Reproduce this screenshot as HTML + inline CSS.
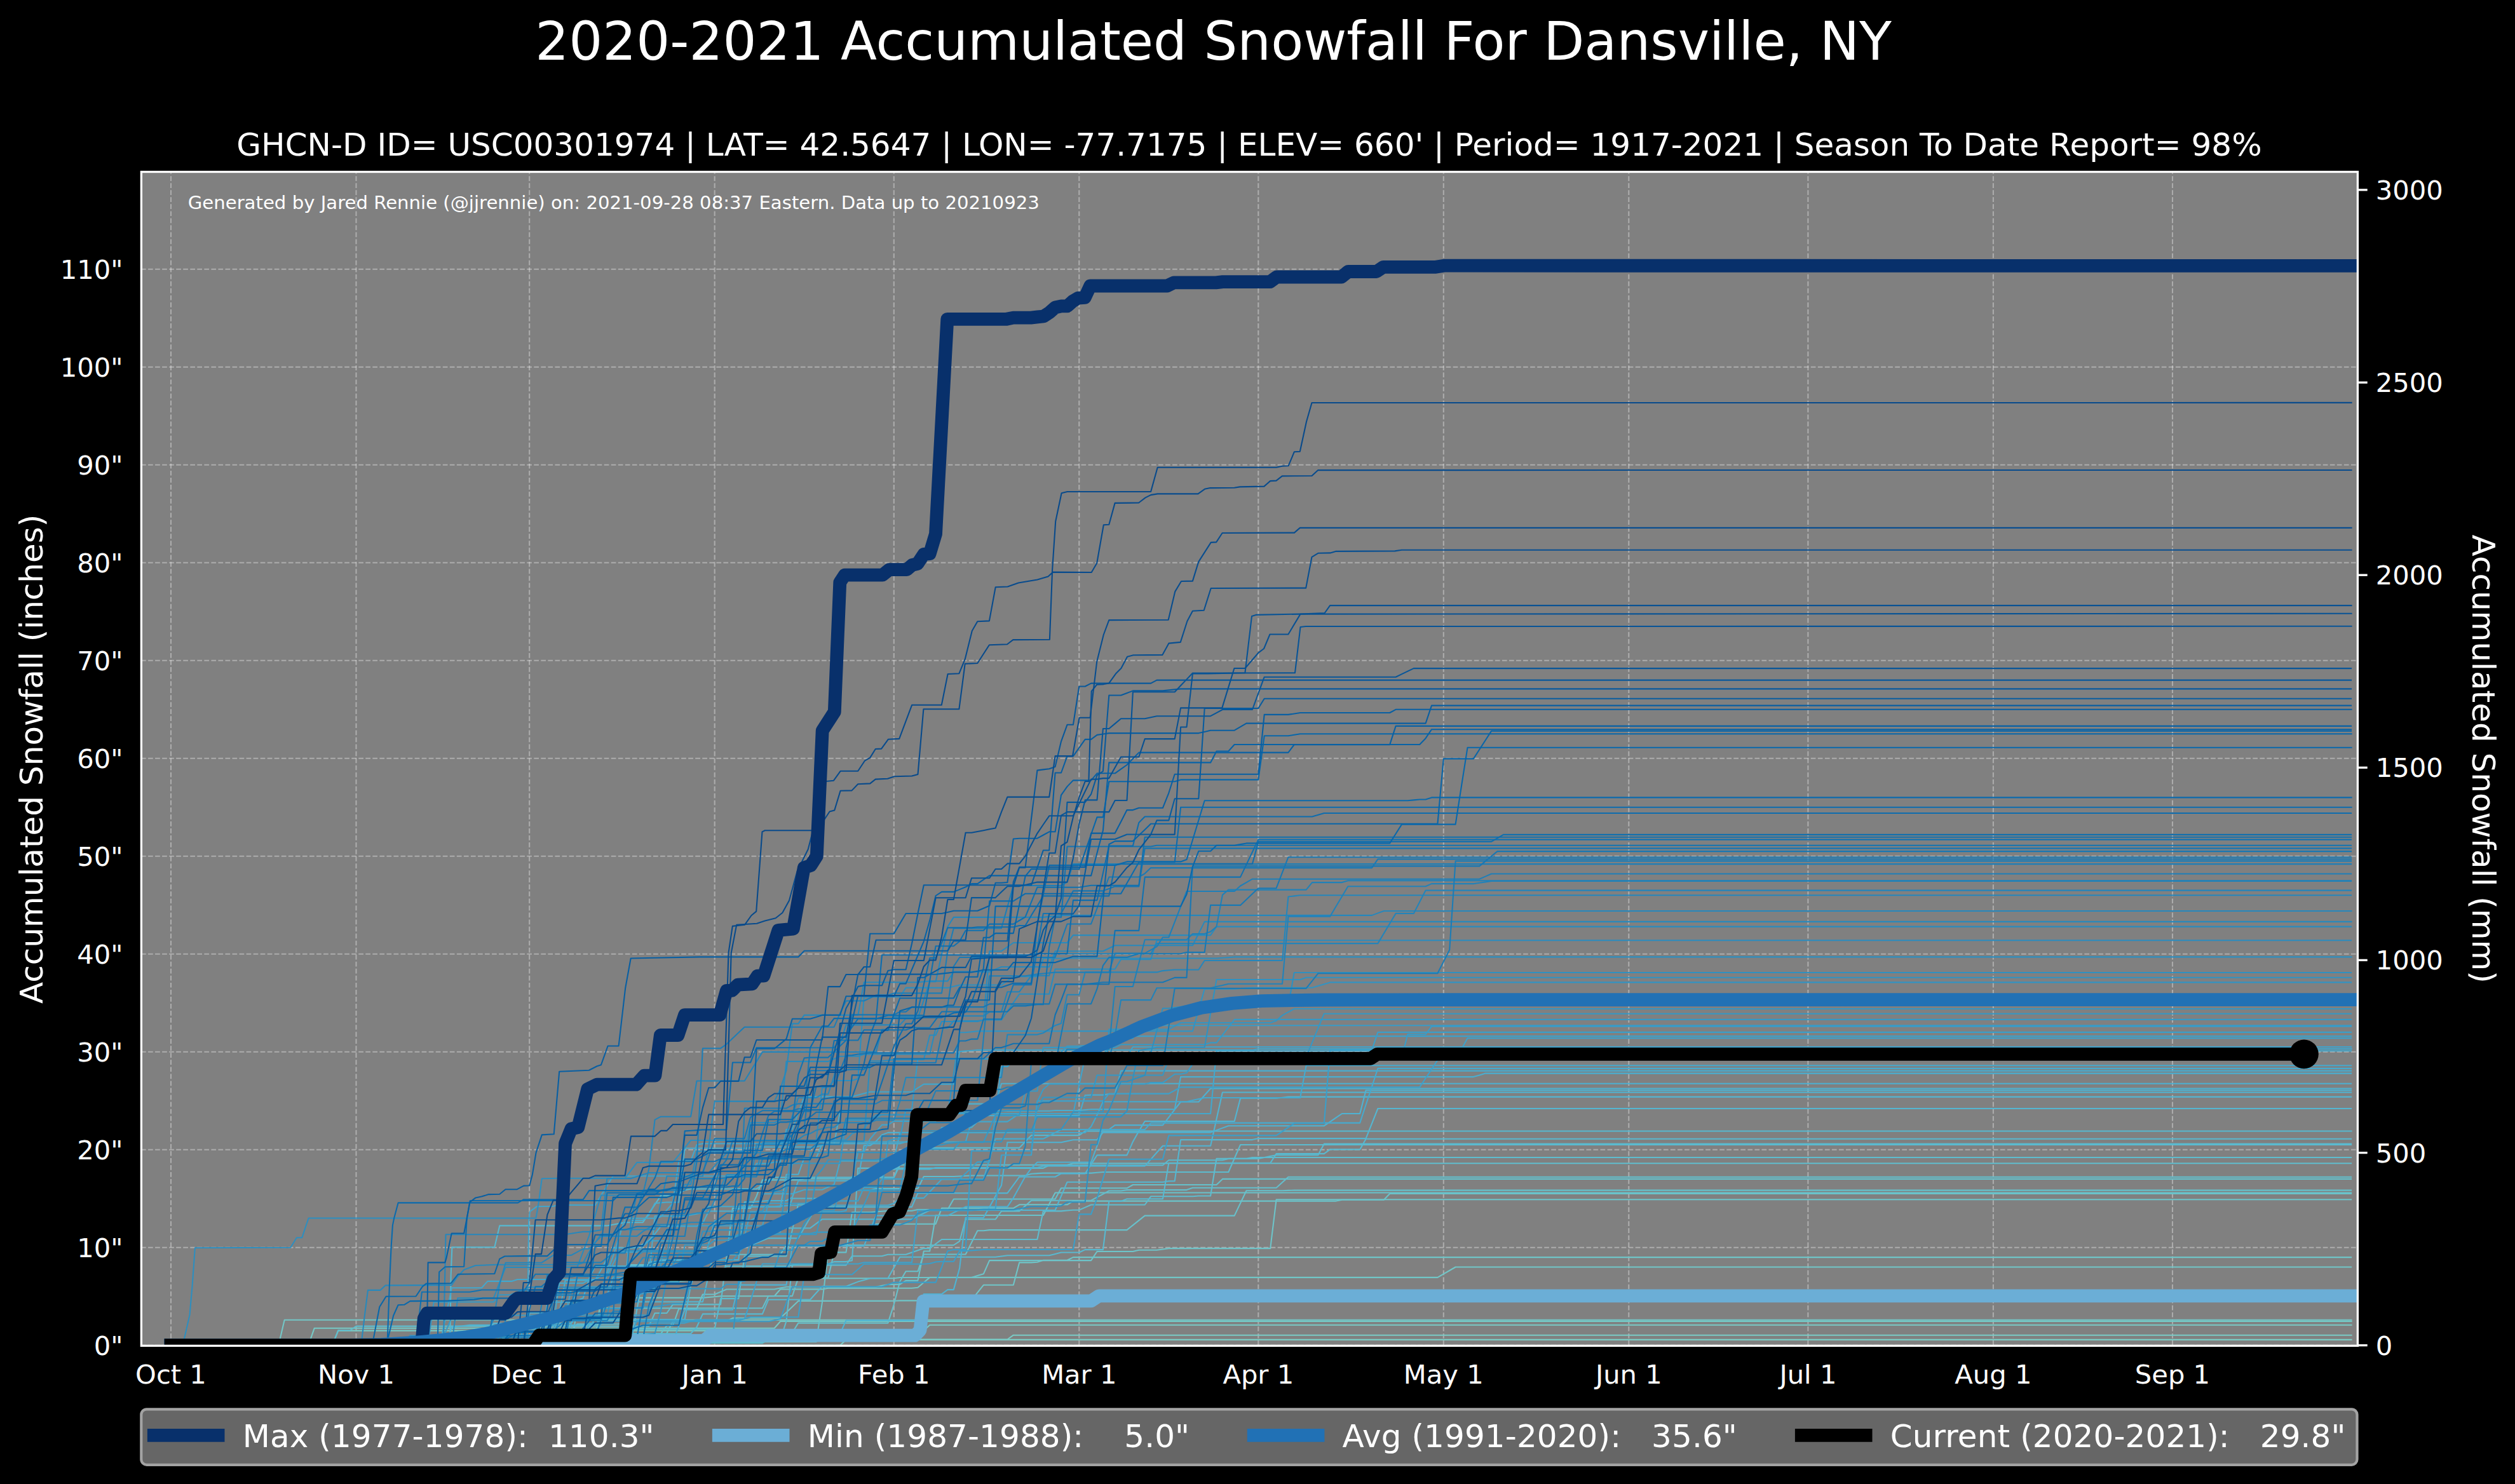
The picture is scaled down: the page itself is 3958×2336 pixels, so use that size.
<!DOCTYPE html>
<html lang="en"><head><meta charset="utf-8">
<title>2020-2021 Accumulated Snowfall For Dansville, NY</title>
<style>
html,body{margin:0;padding:0;background:#000;}
body{width:3958px;height:2336px;overflow:hidden;}
svg{display:block;}
text{font-family:"DejaVu Sans","Liberation Sans",sans-serif;fill:#fff;white-space:pre;}
.t{font-size:41.67px;}
.l{font-size:50px;}
.thin polyline{fill:none;stroke-width:2.08;stroke-linejoin:round;}
.thick{fill:none;stroke-width:20.83;stroke-linejoin:round;stroke-linecap:square;}
.grid line{stroke:#fff;stroke-opacity:.35;stroke-width:2.08;stroke-dasharray:7.708 3.333;}
</style></head><body>
<svg width="3958" height="2336" viewBox="0 0 3958 2336">
<rect width="3958" height="2336" fill="#000"/>
<defs><clipPath id="ax"><rect x="222.4" y="270.5" width="3488" height="1847.9"/></clipPath></defs>
<rect x="222.4" y="270.5" width="3488" height="1847.9" fill="#808080"/>
<g class="grid" clip-path="url(#ax)">
<line x1="269" y1="2117.7" x2="269" y2="269.8"/>
<line x1="560.5" y1="2117.7" x2="560.5" y2="269.8"/>
<line x1="833.2" y1="2117.7" x2="833.2" y2="269.8"/>
<line x1="1124.7" y1="2117.7" x2="1124.7" y2="269.8"/>
<line x1="1406.8" y1="2117.7" x2="1406.8" y2="269.8"/>
<line x1="1698.3" y1="2117.7" x2="1698.3" y2="269.8"/>
<line x1="1980.3" y1="2117.7" x2="1980.3" y2="269.8"/>
<line x1="2271.8" y1="2117.7" x2="2271.8" y2="269.8"/>
<line x1="2563.3" y1="2117.7" x2="2563.3" y2="269.8"/>
<line x1="2845.4" y1="2117.7" x2="2845.4" y2="269.8"/>
<line x1="3136.9" y1="2117.7" x2="3136.9" y2="269.8"/>
<line x1="3419" y1="2117.7" x2="3419" y2="269.8"/>
<line x1="222" y1="2117.7" x2="3710.5" y2="2117.7"/>
<line x1="222" y1="1963.7" x2="3710.5" y2="1963.7"/>
<line x1="222" y1="1809.7" x2="3710.5" y2="1809.7"/>
<line x1="222" y1="1655.7" x2="3710.5" y2="1655.7"/>
<line x1="222" y1="1501.7" x2="3710.5" y2="1501.7"/>
<line x1="222" y1="1347.8" x2="3710.5" y2="1347.8"/>
<line x1="222" y1="1193.8" x2="3710.5" y2="1193.8"/>
<line x1="222" y1="1039.8" x2="3710.5" y2="1039.8"/>
<line x1="222" y1="885.8" x2="3710.5" y2="885.8"/>
<line x1="222" y1="731.8" x2="3710.5" y2="731.8"/>
<line x1="222" y1="577.8" x2="3710.5" y2="577.8"/>
<line x1="222" y1="423.8" x2="3710.5" y2="423.8"/>
</g>
<g class="thin" clip-path="url(#ax)">
<polyline stroke="#7bccc4" points="269,2117.7 1322.1,2117.7 1331.5,2108.9 3701.6,2108.9"/>
<polyline stroke="#79cbc5" points="269,2117.7 927.2,2117.7 936.6,2108.5 1585.4,2108.5 1594.8,2101.7 3701.6,2101.7"/>
<polyline stroke="#77cac5" points="269,2117.7 522.9,2117.7 532.3,2094.6 1453.8,2094.6 1463.2,2085.8 3701.6,2085.8"/>
<polyline stroke="#75c9c6" points="269,2117.7 485.3,2117.7 494.7,2090.8 1218.7,2090.8 1228.1,2080 3701.6,2080"/>
<polyline stroke="#73c7c7" points="269,2117.7 438.3,2117.7 447.7,2077.7 3701.6,2077.7"/>
<polyline stroke="#71c6c7" points="269,2117.7 776.8,2117.7 786.2,2115.4 795.6,2113.1 908.4,2113.1 917.8,2108.1 936.6,2108.1 946,2042.9 1105.9,2042.9 1115.3,2042 1124.7,2041.2 1134.1,2040.3 1218.7,2040.3 1228.1,2029.4 1293.9,2029.4 1303.3,2027.7 1435,2027.7 1444.4,2026.8 1453.8,2018.8 1463.2,2010.9 2262.4,2010.9 2271.8,2005.4 2281.2,2000 2290.6,1994.5 3701.1,1994.5"/>
<polyline stroke="#6fc5c8" points="269,2117.7 1040,2117.7 1049.4,2098.7 1058.9,2079.7 1143.5,2079.7 1152.9,2074.8 1228.1,2074.8 1237.5,2065.9 1246.9,2056.9 1256.3,2047.9 1397.4,2047.9 1406.8,2047.7 1416.2,2047.4 1472.6,2047.4 1482,2046.3 1529,2046.3 1538.4,2034.6 1547.8,2022.8 1594.8,2022.8 1604.2,1987.4 1623,1987.4 1632.4,1986.7 1641.8,1983.7 1679.5,1983.7 1688.9,1979.1 3701.1,1979.1"/>
<polyline stroke="#6dc4c9" points="269,2117.7 861.4,2117.7 870.8,2117 880.2,2116.3 983.6,2116.3 993,2073.6 1002.4,2030.9 1021.2,2030.9 1030.6,2016.9 1068.3,2016.9 1077.7,2016.1 1087.1,2015.3 1096.5,2014.4 1246.9,2014.4 1256.3,2013.3 1265.7,2012.2 1406.8,2012.2 1416.2,2011 1529,2011 1538.4,2008.1 1547.8,2005.3 1557.2,1984.1 1717.1,1984.1 1726.5,1970 1782.9,1970 1792.3,1967.8 1820.5,1967.8 1829.9,1966.5 1839.3,1965.1 1999.2,1965.1 2008.6,1888.3 3701.1,1888.3"/>
<polyline stroke="#6bc3c9" points="269,2117.7 880.2,2117.7 889.6,2117.1 899,2116.5 908.4,2115.9 917.8,2114.1 1040,2114.1 1049.4,2113.2 1058.9,2112.3 1284.5,2112.3 1293.9,2050.4 1303.3,1972.7 1312.7,1948 1322.1,1939.2 1331.5,1938.6 1340.9,1938 1350.3,1937.4 1369.2,1937.4 1378.6,1926.7 1472.6,1926.7 1482,1901.8 1594.8,1901.8 1604.2,1896.3 1679.5,1896.3 1688.9,1890.6 2102.6,1890.6 2112,1888.7 2177.8,1888.7 2187.2,1879 3701.1,1879"/>
<polyline stroke="#69c2ca" points="269,2117.7 870.8,2117.7 880.2,2114 889.6,2110.2 899,2110.2 908.4,2104.4 936.6,2104.4 946,2101.1 955.4,2099.3 1040,2099.3 1049.4,2086.6 1058.9,2086.6 1068.3,2060.2 1096.5,2060.2 1105.9,2037.5 1124.7,2037.5 1134.1,2033.5 1143.5,2029.5 1218.7,2029.5 1228.1,2027.6 1237.5,2025.7 1378.6,2025.7 1388,2023.8 1397.4,2021.9 1416.2,2021.9 1425.6,2015.9 1444.4,2015.9 1453.8,1969.5 1463.2,1969.5 1472.6,1913 1641.8,1913 1651.2,1895.3 1660.6,1877.5 3701.1,1877.5"/>
<polyline stroke="#67c1cb" points="269,2117.7 852,2117.7 861.4,2114.8 1077.7,2114.8 1087.1,2114.4 1096.5,2114 1105.9,2113.6 1190.5,2113.6 1199.9,2111.7 1209.3,2107.1 1218.7,2102.4 1228.1,2097.8 1246.9,2097.8 1256.3,2082.6 1397.4,2082.6 1406.8,2053.5 1416.2,2017.2 1425.6,2001.3 1444.4,2001.3 1453.8,1974.5 1519.6,1974.5 1529,1955.9 1538.4,1937.3 1547.8,1937.3 1557.2,1936.1 1773.5,1936.1 1782.9,1928.6 1792.3,1921.1 1801.7,1913.6 1942.7,1913.6 1952.1,1893.9 1961.5,1874.2 2018,1874.2 2027.4,1873.9 2036.8,1873.6 3701.1,1873.6"/>
<polyline stroke="#65c0cb" points="269,2117.7 899,2117.7 908.4,2059.2 1199.9,2059.2 1209.3,2040.1 1246.9,2040.1 1256.3,2011.5 1303.3,2011.5 1312.7,1971.4 1331.5,1971.4 1340.9,1908.3 1369.2,1908.3 1378.6,1907.5 1388,1906.7 1397.4,1906 1435,1906 1444.4,1904 1491.4,1904 1500.8,1887.5 1660.6,1887.5 1670,1870.3 1773.5,1870.3 1782.9,1865 1914.5,1865 1923.9,1855.9 3701.1,1855.9"/>
<polyline stroke="#63becc" points="269,2117.7 880.2,2117.7 889.6,2093.5 899,2093.5 908.4,2084.2 983.6,2084.2 993,1991 1021.2,1991 1030.6,1989.1 1040,1987.1 1068.3,1987.1 1077.7,1984.8 1087.1,1981.5 1096.5,1978.2 1105.9,1974.8 1228.1,1974.8 1237.5,1960 1500.8,1960 1510.2,1953.8 1519.6,1919.3 1566.6,1919.3 1576,1906.5 1604.2,1906.5 1613.6,1898.1 1623,1889.7 1717.1,1889.7 1726.5,1884.6 1735.9,1879.6 1745.3,1874.5 1764.1,1874.5 1773.5,1873.1 1867.5,1873.1 1876.9,1869.7 2008.6,1869.7 2018,1861.3 2027.4,1852.8 3701.1,1852.8"/>
<polyline stroke="#60bdcd" points="269,2117.7 522.9,2117.7 532.3,2094 551.1,2094 560.5,2087.6 1021.2,2087.6 1030.6,2067 1049.4,2067 1058.9,2053.4 1134.1,2053.4 1143.5,1977.7 1152.9,1902 1181.1,1902 1190.5,1883.1 1199.9,1857.4 1256.3,1857.4 1265.7,1855.5 1350.3,1855.5 1359.7,1854.5 1369.2,1853.5 1406.8,1853.5 1416.2,1833.8 1679.5,1833.8 1688.9,1831.3 3701.1,1831.3"/>
<polyline stroke="#5ebcce" points="269,2117.7 1021.2,2117.7 1030.6,2114.1 1199.9,2114.1 1209.3,2108.9 1228.1,2108.9 1237.5,2079.6 1246.9,1991.5 1331.5,1991.5 1340.9,1977.2 1388,1977.2 1397.4,1974.8 1425.6,1974.8 1435,1971.6 1444.4,1968.3 1453.8,1965.1 1463.2,1965.1 1472.6,1958 1482,1951 1632.4,1951 1641.8,1906.4 1670,1906.4 1679.5,1905.5 1688.9,1904.7 1698.3,1904.7 1707.7,1900.6 1717.1,1896.5 1801.7,1896.5 1811.1,1883.3 1876.9,1883.3 1886.3,1882.5 1905.1,1882.5 1914.5,1823.8 1961.5,1823.8 1970.9,1822 3701.1,1822"/>
<polyline stroke="#5cbbce" points="269,2117.7 936.6,2117.7 946,2108.8 955.4,2100 964.8,2092.4 1124.7,2092.4 1134.1,2044.1 1162.3,2044.1 1171.7,1977.5 1237.5,1977.5 1246.9,1936.3 1256.3,1895 1293.9,1895 1303.3,1884.3 1312.7,1873.6 1369.2,1873.6 1378.6,1871 1444.4,1871 1453.8,1852 1500.8,1852 1510.2,1851.5 1519.6,1851 1529,1850.5 1613.6,1850.5 1623,1847.7 1632.4,1847.1 1641.8,1846.6 1717.1,1846.6 1726.5,1845.8 1735.9,1845 1933.3,1845 1942.7,1823.5 1952.1,1802 3701.1,1802"/>
<polyline stroke="#5abacf" points="269,2117.7 485.3,2117.7 494.7,2116.6 504.1,2115.6 964.8,2115.6 974.2,2113.1 993,2113.1 1002.4,2061.1 1011.8,2009.2 1124.7,2009.2 1134.1,2001.2 1143.5,1993.1 1237.5,1993.1 1246.9,1991.5 1256.3,1989.8 1303.3,1989.8 1312.7,1986.1 1331.5,1986.1 1340.9,1984.3 1350.3,1838.9 1641.8,1838.9 1651.2,1834.2 1829.9,1834.2 1839.3,1826.3 1923.9,1826.3 1933.3,1823.9 1980.3,1823.9 1989.7,1822 1999.2,1820.1 2008.6,1818.3 2074.4,1818.3 2083.8,1800.5 3701.1,1800.5"/>
<polyline stroke="#58b9d0" points="269,2117.7 833.2,2117.7 842.6,2099.2 1087.1,2099.2 1096.5,2089 1105.9,2068.4 1199.9,2068.4 1209.3,2045.7 1275.1,2045.7 1284.5,2035.3 1293.9,2024.9 1331.5,2024.9 1340.9,2021.2 1350.3,2017.6 1359.7,2014.9 1369.2,2012.2 1397.4,2012.2 1406.8,1995.5 1416.2,1978.7 1566.6,1978.7 1576,1977.5 1585.4,1976.3 1651.2,1976.3 1660.6,1973.9 1670,1971.5 1698.3,1971.5 1707.7,1967.1 1735.9,1967.1 1745.3,1890.9 1764.1,1890.9 1773.5,1887.3 1829.9,1887.3 1839.3,1830.7 1999.2,1830.7 2008.6,1816.1 2083.8,1816.1 2093.2,1809.4 2140.2,1809.4 2149.6,1792.8 3701.1,1792.8"/>
<polyline stroke="#56b8d0" points="269,2117.7 707,2117.7 708.4,2105.4 709.6,2009.1 711.4,1963.3 778.3,1963.3 786.3,1929.4 900,1929.4 955.4,1929.4 964.8,1927.7 974.2,1925.9 983.6,1924.2 1011.8,1924.2 1021.2,1910.2 1030.6,1896.2 1040,1882.2 1058.9,1882.2 1068.3,1878.8 1077.7,1873.4 1087.1,1871.5 1190.5,1871.5 1199.9,1865.5 1209.3,1859.4 1218.7,1853.4 1406.8,1853.4 1416.2,1830.1 1425.6,1806.9 1604.2,1806.9 1613.6,1797 1623,1787.1 1698.3,1787.1 1707.7,1780.5 3701.6,1780.5"/>
<polyline stroke="#54b6d1" points="269,2117.7 579.3,2117.7 588.7,2114.5 598.1,2111.4 776.8,2111.4 786.2,2108.6 795.6,2105.7 805,2102.9 917.8,2102.9 927.2,2092.6 936.6,2074.7 946,2067.1 983.6,2067.1 993,2049.2 1105.9,2049.2 1115.3,2006.2 1124.7,1963.2 1162.3,1963.2 1171.7,1957.9 1181.1,1951.3 1190.5,1944.7 1199.9,1933.2 1275.1,1933.2 1284.5,1926.2 1293.9,1919.2 1435,1919.2 1444.4,1914.5 1453.8,1909.8 1463.2,1905 1660.6,1905 1670,1882.9 1679.5,1860.7 1829.9,1860.7 1839.3,1859.2 1848.7,1859.2 1858.1,1794.1 1970.9,1794.1 1980.3,1792.1 2149.6,1792.1 2159,1768.6 2168.4,1745 3701.1,1745"/>
<polyline stroke="#52b5d2" points="269,2117.7 682.7,2117.7 692.1,2114.6 748.6,2114.6 758,2102.7 767.4,2090.8 776.8,2083 899,2083 908.4,2071.2 917.8,2059.5 1011.8,2059.5 1021.2,1986.9 1030.6,1985.8 1040,1984.7 1049.4,1983.6 1096.5,1983.6 1105.9,1974.4 1115.3,1965.1 1124.7,1962.8 1134.1,1960.4 1181.1,1960.4 1190.5,1956.6 1199.9,1952.8 1209.3,1949.1 1256.3,1949.1 1265.7,1932.7 1275.1,1916.3 1284.5,1899.9 1435,1899.9 1444.4,1878.1 1585.4,1878.1 1594.8,1865.3 1604.2,1852.5 1660.6,1852.5 1670,1847.4 1707.7,1847.4 1717.1,1832.9 1726.5,1818.4 1773.5,1818.4 1782.9,1797.2 1792.3,1780.5 1801.7,1765 1942.7,1765 1952.1,1728.8 2008.6,1728.8 2018,1727.7 2027.4,1726.6 3701.1,1726.6"/>
<polyline stroke="#50b4d2" points="269,2117.7 701.5,2117.7 710.9,2089.3 720.3,2088.1 729.7,2087 739.2,2085.9 936.6,2085.9 946,2077 1077.7,2077 1087.1,2023.3 1096.5,1995.4 1105.9,1967.5 1143.5,1967.5 1152.9,1964.2 1171.7,1964.2 1181.1,1955.7 1190.5,1947.2 1199.9,1938.7 1228.1,1938.7 1237.5,1912.6 1246.9,1886.5 1322.1,1886.5 1331.5,1869.4 1340.9,1852.3 1388,1852.3 1397.4,1840.5 1463.2,1840.5 1472.6,1838 1632.4,1838 1641.8,1835.4 1801.7,1835.4 1811.1,1824.9 1820.5,1814.3 1829.9,1803.8 1905.1,1803.8 1914.5,1761.6 1923.9,1719.5 3701.1,1719.5"/>
<polyline stroke="#4eb3d3" points="269,2117.7 1002.4,2117.7 1011.8,2115.4 1087.1,2115.4 1096.5,2110.1 1218.7,2110.1 1228.1,2099.5 1322.1,2099.5 1331.5,2078.4 1444.4,2078.4 1453.8,2037.1 1482,2037.1 1491.4,2030.1 1500.8,2030.1 1510.2,1996.1 1519.6,1916.8 1547.8,1916.8 1557.2,1899.9 1566.6,1883 1576,1866.1 1585.4,1798.2 1670,1798.2 1679.5,1796.2 1688.9,1794.2 1726.5,1794.2 1735.9,1782.6 1905.1,1782.6 1914.5,1779.1 1923.9,1775.6 1933.3,1772.2 2083.8,1772.2 2093.2,1765.8 2102.6,1759.4 2112,1753 2140.2,1753 2149.6,1716.2 3701.1,1716.2"/>
<polyline stroke="#4db1d2" points="269,2117.7 1021.2,2117.7 1030.6,2115 1040,2112.5 1058.9,2112.5 1068.3,2087.2 1077.7,2061.8 1152.9,2061.8 1162.3,2022.6 1237.5,2022.6 1246.9,1961.3 1359.7,1961.3 1369.2,1937.4 1378.6,1913.5 1491.4,1913.5 1500.8,1908.9 1510.2,1904.2 1519.6,1899.6 1585.4,1899.6 1594.8,1885.6 1604.2,1868.7 1613.6,1851.8 1623,1839.2 1632.4,1829.5 1717.1,1829.5 1726.5,1803.8 1735.9,1778 1745.3,1778 1754.7,1771.1 1829.9,1771.1 1839.3,1758.9 1848.7,1746.7 1858.1,1734.5 1886.3,1734.5 1895.7,1724 1905.1,1713.5 3701.1,1713.5"/>
<polyline stroke="#4bb0d1" points="269,2117.7 710.9,2117.7 720.3,2116.7 729.7,2115.6 889.6,2115.6 899,2083.3 908.4,2047.2 917.8,2043.3 927.2,2012.7 936.6,1993 1030.6,1993 1040,1983.1 1162.3,1983.1 1171.7,1892 1181.1,1892 1190.5,1891.3 1199.9,1890.7 1209.3,1890 1237.5,1890 1246.9,1884.9 1256.3,1858.6 1350.3,1858.6 1359.7,1803.3 1369.2,1803.3 1378.6,1796.6 1388,1786.4 1397.4,1782.9 1435,1782.9 1444.4,1773.8 1453.8,1764.8 1472.6,1764.8 1482,1753.9 1491.4,1743 1500.8,1737.6 1566.6,1737.6 1576,1705.8 3701.1,1705.8"/>
<polyline stroke="#49aed0" points="269,2117.7 814.4,2117.7 823.8,2092.1 833.2,2066.6 880.2,2066.6 889.6,2015.5 936.6,2015.5 946,1998.4 955.4,1981.4 964.8,1964.4 1002.4,1964.4 1011.8,1958.5 1021.2,1952.7 1030.6,1942.3 1040,1930.1 1096.5,1930.1 1105.9,1925.4 1115.3,1906.5 1152.9,1906.5 1162.3,1903.2 1171.7,1899.8 1228.1,1899.8 1237.5,1848.7 1256.3,1848.7 1265.7,1822.5 1284.5,1822.5 1293.9,1800.8 1312.7,1800.8 1322.1,1749.7 1331.5,1749.7 1340.9,1748.8 1651.2,1748.8 1660.6,1748 1698.3,1748 1707.7,1747.1 1717.1,1746.3 1848.7,1746.3 1858.1,1695.1 2318.9,1695.1 2328.3,1692.4 2337.7,1689.6 3701.1,1689.6"/>
<polyline stroke="#48accf" points="269,2117.7 852,2117.7 861.4,2049.7 899,2049.7 908.4,2037.6 917.8,2025.6 983.6,2025.6 993,1921 1011.8,1921 1021.2,1912.7 1030.6,1894.1 1040,1893.3 1049.4,1892.5 1068.3,1892.5 1077.7,1807.5 1171.7,1807.5 1181.1,1806.5 1190.5,1805.5 1284.5,1805.5 1293.9,1802.9 1303.3,1800.2 1416.2,1800.2 1425.6,1797.4 1435,1794.6 1472.6,1794.6 1482,1774.8 1529,1774.8 1538.4,1765.5 1547.8,1756.1 1688.9,1756.1 1698.3,1755.6 1707.7,1724.1 1717.1,1723.6 1735.9,1723.6 1745.3,1722.1 1754.7,1722.1 1764.1,1685.6 3701.1,1685.6"/>
<polyline stroke="#46aace" points="269,2117.7 616.9,2117.7 626.3,2115.7 635.7,2113.7 645.1,2111.7 917.8,2111.7 927.2,2082.9 946,2082.9 955.4,2038.8 964.8,2010.8 1021.2,2010.8 1030.6,1914.2 1077.7,1914.2 1087.1,1912.5 1096.5,1910.7 1105.9,1909 1115.3,1899.2 1218.7,1899.2 1228.1,1898.6 1237.5,1897.9 1246.9,1897.3 1397.4,1897.3 1406.8,1894.2 1416.2,1885.9 1453.8,1885.9 1463.2,1876 1472.6,1866.2 1482,1856.4 1547.8,1856.4 1557.2,1824.5 1566.6,1792.6 1641.8,1792.6 1651.2,1787.8 1660.6,1782.9 1670,1778.1 1801.7,1778.1 1811.1,1767.6 2140.2,1767.6 2149.6,1739 2159,1710.5 2168.4,1681.9 3701.1,1681.9"/>
<polyline stroke="#45a9cd" points="269,2117.7 786.2,2117.7 795.6,2114.9 805,2112 814.4,2099.2 823.8,2086.4 870.8,2086.4 880.2,2019.9 917.8,2019.9 927.2,2014.6 993,2014.6 1002.4,2004.6 1011.8,1994.6 1030.6,1994.6 1040,1993.8 1049.4,1992.9 1105.9,1992.9 1115.3,1957.2 1124.7,1921.5 1181.1,1921.5 1190.5,1915.6 1199.9,1879.2 1246.9,1879.2 1256.3,1876 1265.7,1872.8 1293.9,1872.8 1303.3,1868.6 1312.7,1864.4 1322.1,1827.5 1388,1827.5 1397.4,1826.9 1406.8,1826.4 1416.2,1783 1707.7,1783 1717.1,1773.6 1726.5,1755.3 1735.9,1734.2 1867.5,1734.2 1876.9,1732.1 1886.3,1730.1 1895.7,1728 2046.2,1728 2055.6,1677.3 3701.1,1677.3"/>
<polyline stroke="#43a7cc" points="269,2117.7 692.1,2117.7 701.5,2072.5 710.9,2027.2 758,2027.2 767.4,2016.9 805,2016.9 814.4,2014 936.6,2014 946,2008.4 955.4,2002.8 964.8,1977.7 974.2,1947.7 983.6,1917.7 1030.6,1917.7 1040,1915.2 1049.4,1904.6 1058.9,1894 1068.3,1827.4 1087.1,1827.4 1096.5,1802.1 1105.9,1800.3 1218.7,1800.3 1228.1,1799.4 1237.5,1798.5 1246.9,1797.6 1519.6,1797.6 1529,1765.6 1585.4,1765.6 1594.8,1759.3 1604.2,1753 1905.1,1753 1914.5,1654.2 3701.1,1654.2"/>
<polyline stroke="#41a5cb" points="269,2117.7 828,2117.7 829.9,2105.4 832.2,1922.1 834,1907.2 840.2,1902.6 844.8,1899.2 871.1,1898.7 876.8,1896.9 936.6,1896.9 946,1881.6 955.4,1866.4 964.8,1851.2 1181.1,1851.2 1190.5,1831.6 1209.3,1831.6 1218.7,1829.2 1228.1,1829.2 1237.5,1777.7 1246.9,1777.7 1256.3,1752 1265.7,1726.2 1340.9,1726.2 1350.3,1723.7 1359.7,1721.2 1369.2,1718.7 1435,1718.7 1444.4,1712.7 1453.8,1706.6 1500.8,1706.6 1510.2,1655.2 1519.6,1654.4 1529,1653.7 1538.4,1652.9 1970.9,1652.9 1980.3,1651.1 3701.6,1651.1"/>
<polyline stroke="#40a3cb" points="269,2117.7 710.9,2117.7 720.3,2096.5 729.7,2096.5 739.2,2094.3 786.2,2094.3 795.6,2093.5 805,2092.7 814.4,2091.9 870.8,2091.9 880.2,2072.5 889.6,2072.5 899,2029.4 917.8,2029.4 927.2,2027 946,2027 955.4,2008 964.8,1989.1 974.2,1971 1002.4,1971 1011.8,1962.1 1021.2,1953.2 1096.5,1953.2 1105.9,1949.8 1115.3,1946.4 1171.7,1946.4 1181.1,1907.6 1322.1,1907.6 1331.5,1905.7 1340.9,1856.8 1350.3,1813 1359.7,1813 1369.2,1793 1378.6,1781.8 1388,1770.6 1397.4,1770.6 1406.8,1764.9 1435,1764.9 1444.4,1760.9 1453.8,1756.9 1463.2,1752.9 1688.9,1752.9 1698.3,1708.2 1707.7,1663.5 1773.5,1663.5 1782.9,1648 3701.1,1648"/>
<polyline stroke="#3ea1ca" points="269,2117.7 870.8,2117.7 880.2,2117.1 889.6,2115.8 899,2096.1 983.6,2096.1 993,2092.3 1002.4,2088.4 1011.8,2086.4 1021.2,2084.5 1030.6,2082.6 1077.7,2082.6 1087.1,2080 1096.5,2077.5 1152.9,2077.5 1162.3,2076.3 1171.7,2076.3 1181.1,2047.9 1190.5,2017.8 1199.9,1989.5 1350.3,1989.5 1359.7,1987.3 1435,1987.3 1444.4,1905.5 1529,1905.5 1538.4,1904.4 1547.8,1903.4 1566.6,1903.4 1576,1818.2 1623,1818.2 1632.4,1733.1 1735.9,1733.1 1745.3,1721.6 1839.3,1721.6 1848.7,1716.5 1858.1,1711.4 2234.2,1711.4 2243.6,1697.2 2253,1683 2262.4,1668.8 2290.6,1668.8 2300,1651.5 2309.5,1634.2 3701.1,1634.2"/>
<polyline stroke="#3da0c9" points="269,2117.7 842.6,2117.7 852,2111.1 861.4,2104.4 870.8,2078 917.8,2078 927.2,2077 936.6,2076 946,2075.1 983.6,2075.1 993,2056.7 1002.4,2038.3 1011.8,2036.2 1021.2,2034.1 1030.6,2034.1 1040,1989.8 1049.4,1937.5 1058.9,1929.5 1199.9,1929.5 1209.3,1894.3 1265.7,1894.3 1275.1,1892.3 1284.5,1890.4 1350.3,1890.4 1359.7,1869.1 1378.6,1869.1 1388,1855.9 1510.2,1855.9 1519.6,1847 1529,1838.1 1538.4,1829.1 1557.2,1829.1 1566.6,1754.1 1576,1679 1585.4,1679 1594.8,1668.9 1641.8,1668.9 1651.2,1665.2 1660.6,1661.5 1735.9,1661.5 1745.3,1646.3 1754.7,1631.1 3701.1,1631.1"/>
<polyline stroke="#3b9ec8" points="269,2117.7 776.8,2117.7 786.2,2103.3 805,2103.3 814.4,2102.2 823.8,2101.2 993,2101.2 1002.4,2078.5 1162.3,2078.5 1171.7,2075.9 1181.1,2073.3 1256.3,2073.3 1265.7,2006.3 1340.9,2006.3 1350.3,1998 1359.7,1989.7 1453.8,1989.7 1463.2,1989 1472.6,1986.4 1482,1985.8 1500.8,1985.8 1510.2,1969.1 1519.6,1969.1 1529,1968.4 1538.4,1967.7 1547.8,1967 1688.9,1967 1698.3,1911.4 1717.1,1911.4 1726.5,1886.1 1735.9,1855.4 1745.3,1824.7 1829.9,1824.7 1839.3,1787.4 2008.6,1787.4 2018,1781.1 2027.4,1774.7 2036.8,1768.3 2083.8,1768.3 2093.2,1652.8 2159,1652.8 2168.4,1624.9 3701.1,1624.9"/>
<polyline stroke="#3a9cc7" points="269,2117.7 833.2,2117.7 842.6,2112.9 852,2108 908.4,2108 917.8,2105 927.2,2102 936.6,2099 946,2082.7 955.4,2080.3 1209.3,2080.3 1218.7,2078.2 1228.1,2076.1 1237.5,2050.8 1246.9,2025.5 1388,2025.5 1397.4,2022 1406.8,2018.6 1472.6,2018.6 1482,1994.9 1491.4,1969.2 1500.8,1967.1 1519.6,1967.1 1529,1811.6 1623,1811.6 1632.4,1734.3 1641.8,1714.7 1651.2,1706.5 1801.7,1706.5 1811.1,1704.1 1829.9,1704.1 1839.3,1697.5 1848.7,1690.8 1858.1,1690.8 1867.5,1688.8 1876.9,1675 2140.2,1675 2149.6,1669.9 2159,1664.8 2206,1664.8 2215.4,1628.1 2243.6,1628.1 2253,1615.7 3701.1,1615.7"/>
<polyline stroke="#389ac6" points="269,2117.7 692.1,2117.7 701.5,2095.7 710.9,2073.6 748.6,2073.6 758,2070.5 899,2070.5 908.4,2059.9 993,2059.9 1002.4,2058.6 1011.8,2057.3 1030.6,2057.3 1040,2055.6 1049.4,2053.9 1058.9,2052.3 1077.7,2052.3 1087.1,2011.9 1096.5,2002.6 1105.9,1993.2 1115.3,1983.8 1152.9,1983.8 1162.3,1972.6 1171.7,1961.3 1181.1,1954.8 1190.5,1948.2 1199.9,1941.7 1275.1,1941.7 1284.5,1939.6 1340.9,1939.6 1350.3,1918.2 1359.7,1896.8 1369.2,1875.4 1388,1875.4 1397.4,1795.9 1406.8,1793 1416.2,1793 1425.6,1746.4 1435,1746.4 1444.4,1666.9 1557.2,1666.9 1566.6,1665.8 1660.6,1665.8 1670,1656.3 1679.5,1646.8 1698.3,1646.8 1707.7,1645.9 1717.1,1643.9 1726.5,1643 1735.9,1634.6 1782.9,1634.6 1792.3,1614.2 3701.1,1614.2"/>
<polyline stroke="#3699c5" points="269,2117.7 701.5,2117.7 710.9,2116.3 720.3,2114.9 729.7,2113.6 767.4,2113.6 776.8,2090.5 833.2,2090.5 842.6,2080.4 852,2070.3 1021.2,2070.3 1030.6,2025.5 1040,2021.9 1049.4,2018.2 1068.3,2018.2 1077.7,1959.7 1115.3,1959.7 1124.7,1952.3 1143.5,1952.3 1152.9,1947.8 1162.3,1943.3 1284.5,1943.3 1293.9,1905.5 1312.7,1905.5 1322.1,1873.4 1416.2,1873.4 1425.6,1828.5 1435,1828.5 1444.4,1818.8 1453.8,1809.1 1500.8,1809.1 1510.2,1798.2 1547.8,1798.2 1557.2,1776.9 1566.6,1755.6 1604.2,1755.6 1613.6,1717.5 1632.4,1717.5 1641.8,1648.9 1754.7,1648.9 1764.1,1644.2 1895.7,1644.2 1905.1,1641.4 1914.5,1641.4 1923.9,1629.2 1933.3,1617.1 1942.7,1604.9 3701.1,1604.9"/>
<polyline stroke="#3597c4" points="269,2117.7 673.3,2117.7 682.7,2049.5 776.8,2049.5 786.2,2038.3 880.2,2038.3 889.6,2028.5 1134.1,2028.5 1143.5,2021.7 1162.3,2021.7 1171.7,1997.2 1181.1,1952 1190.5,1906.8 1199.9,1906.8 1209.3,1891.2 1218.7,1875.7 1237.5,1875.7 1246.9,1831.2 1322.1,1831.2 1331.5,1763.1 1369.2,1763.1 1378.6,1758.9 1388,1754.7 1435,1754.7 1444.4,1753.6 1453.8,1752.5 1463.2,1751.4 1557.2,1751.4 1566.6,1750.3 1576,1749.1 1585.4,1748 1632.4,1748 1641.8,1727.5 1717.1,1727.5 1726.5,1692.5 1829.9,1692.5 1839.3,1666.6 1876.9,1666.6 1886.3,1665.3 1895.7,1663.9 2055.6,1663.9 2065,1641.1 2074.4,1618.4 2083.8,1595.7 3701.1,1595.7"/>
<polyline stroke="#3395c3" points="269,2117.7 1021.2,2117.7 1030.6,2111.6 1058.9,2111.6 1068.3,2108.2 1152.9,2108.2 1162.3,2016.6 1171.7,2016.6 1181.1,2010.4 1190.5,2004.3 1199.9,1998.1 1218.7,1998.1 1228.1,1968 1246.9,1968 1256.3,1946.8 1265.7,1925.7 1275.1,1915.1 1284.5,1851.3 1293.9,1840.7 1303.3,1825.8 1378.6,1825.8 1388,1823.8 1444.4,1823.8 1453.8,1802.3 1482,1802.3 1491.4,1799.8 1500.8,1799 1510.2,1798.2 1519.6,1797.4 1576,1797.4 1585.4,1777.8 1670,1777.8 1679.5,1764 1688.9,1750.3 1735.9,1750.3 1745.3,1620.4 1839.3,1620.4 1848.7,1615.2 1858.1,1610 1999.2,1610 2008.6,1606.8 2018,1598.4 2027.4,1593.2 2036.8,1588 3701.1,1588"/>
<polyline stroke="#3293c2" points="269,2117.7 475.9,2117.7 485.3,2108 899,2108 908.4,2106.2 964.8,2106.2 974.2,2104.5 983.6,2102.8 993,2101.1 1011.8,2101.1 1021.2,2100.2 1030.6,2099.3 1040,2063.5 1049.4,2009.7 1058.9,1991.7 1068.3,1973.7 1143.5,1973.7 1152.9,1958.6 1162.3,1943.6 1171.7,1943.6 1181.1,1942 1190.5,1938 1199.9,1929.6 1228.1,1929.6 1237.5,1867.5 1246.9,1805.4 1256.3,1799.9 1284.5,1799.9 1293.9,1794.5 1331.5,1794.5 1340.9,1784.6 1350.3,1780.6 1359.7,1776.6 1369.2,1763.7 1378.6,1754.9 1491.4,1754.9 1500.8,1690.1 1510.2,1625.3 1519.6,1625.3 1529,1624.2 1538.4,1623.1 1876.9,1623.1 1886.3,1589.9 1895.7,1556.7 1942.7,1556.7 1952.1,1556 1961.5,1555.4 1970.9,1554.7 2065,1554.7 2074.4,1552 2083.8,1549.2 2093.2,1546.4 3701.1,1546.4"/>
<polyline stroke="#3092c1" points="269,2117.7 635.7,2117.7 645.1,2102.6 767.4,2102.6 776.8,2099.8 786.2,2097 852,2097 861.4,2090.7 870.8,2084.4 880.2,2078.2 917.8,2078.2 927.2,2071.6 955.4,2071.6 964.8,2027.7 974.2,2025.4 983.6,2004.2 993,1983.1 1002.4,1976.8 1011.8,1970.5 1096.5,1970.5 1105.9,1938.2 1115.3,1938.2 1124.7,1937.2 1134.1,1936.1 1218.7,1936.1 1228.1,1919.4 1265.7,1919.4 1275.1,1814.2 1425.6,1814.2 1435,1797.2 1444.4,1780.3 1623,1780.3 1632.4,1758.1 1764.1,1758.1 1773.5,1749 1782.9,1696.9 1792.3,1653.9 1801.7,1652.1 1811.1,1650.4 1820.5,1648.7 1895.7,1648.7 1905.1,1594.6 1914.5,1542 2046.2,1542 2055.6,1538.7 3701.1,1538.7"/>
<polyline stroke="#2e90c0" points="269,2117.7 889.6,2117.7 899,2052.6 955.4,2052.6 964.8,2022.6 974.2,1968.6 1124.7,1968.6 1134.1,1964.3 1143.5,1960.1 1265.7,1960.1 1275.1,1954 1293.9,1954 1303.3,1948.5 1350.3,1948.5 1359.7,1938.4 1369.2,1928.3 1416.2,1928.3 1425.6,1924.7 1435,1921 1444.4,1910.2 1453.8,1907.2 1463.2,1904.3 1594.8,1904.3 1604.2,1902.6 1613.6,1901 1623,1899.3 1660.6,1899.3 1670,1898.2 1679.5,1892.2 1707.7,1892.2 1717.1,1801.7 1726.5,1801.7 1735.9,1763.6 1745.3,1747.9 1754.7,1724.7 1764.1,1702.5 1773.5,1702.5 1782.9,1699.2 1792.3,1696 1801.7,1692.7 1811.1,1657.6 1820.5,1622.5 1829.9,1587.3 1839.3,1587.3 1848.7,1586 1858.1,1584.7 1867.5,1583.4 2027.4,1583.4 2036.8,1531 3701.1,1531"/>
<polyline stroke="#2d8ebf" points="269,2117.7 287,2117.7 290.2,2106.2 298.5,2070 302.7,2022.7 306.9,1964.2 457.2,1963.7 466.9,1948.3 475.3,1948.1 485.6,1917.5 842.7,1917.5 843.6,1917 848.2,1890 852.8,1855.2 878,1854.7 983.6,1854.7 993,1842.3 1002.4,1829.9 1058.9,1829.9 1068.3,1818.3 1077.7,1806.6 1087.1,1795 1284.5,1795 1293.9,1712.4 1303.3,1710.9 1312.7,1701 1340.9,1701 1350.3,1698.1 1359.7,1569.3 1416.2,1569.3 1425.6,1554.9 1491.4,1554.9 1500.8,1552.7 1510.2,1550.5 1576,1550.5 1585.4,1543.9 1594.8,1537.3 1632.4,1537.3 1641.8,1508.5 1914.5,1508.5 1923.9,1507.8 1933.3,1507.1 1942.7,1506.4 3701.6,1506.4"/>
<polyline stroke="#2b8cbe" points="269,2117.7 786.2,2117.7 795.6,2077.6 805,2037.5 814.4,2033.7 823.8,2030 833.2,2026.2 974.2,2026.2 983.6,2024 993,2007.8 1002.4,1993.7 1011.8,1979.7 1049.4,1979.7 1058.9,1913.2 1077.7,1913.2 1087.1,1911.3 1096.5,1909.4 1115.3,1909.4 1124.7,1889.3 1134.1,1869.2 1143.5,1849.1 1190.5,1849.1 1199.9,1798.8 1218.7,1798.8 1228.1,1798 1237.5,1797.2 1246.9,1796.4 1359.7,1796.4 1369.2,1670.2 1388,1670.2 1397.4,1669 1406.8,1667.9 1453.8,1667.9 1463.2,1629.5 1472.6,1629.5 1482,1608 1538.4,1608 1547.8,1605.5 1576,1605.5 1585.4,1592 1594.8,1578.4 1604.2,1564.8 1651.2,1564.8 1660.6,1525.5 1754.7,1525.5 1764.1,1510.3 1811.1,1510.3 1820.5,1480.2 3701.1,1480.2"/>
<polyline stroke="#2a8bbd" points="269,2117.7 710.9,2117.7 720.3,2043.4 776.8,2043.4 786.2,2019.1 795.6,1994.9 908.4,1994.9 917.8,1969.9 927.2,1944.9 936.6,1913.2 946,1881.5 1011.8,1881.5 1021.2,1879.5 1058.9,1879.5 1068.3,1876.2 1077.7,1864.5 1087.1,1864.5 1096.5,1812.1 1171.7,1812.1 1181.1,1767.3 1218.7,1767.3 1228.1,1763.3 1237.5,1670.9 1303.3,1670.9 1312.7,1666.9 1322.1,1662.8 1350.3,1662.8 1359.7,1659.5 1463.2,1659.5 1472.6,1618.5 1491.4,1618.5 1500.8,1607 1538.4,1607 1547.8,1605.8 1557.2,1497.2 1576,1497.2 1585.4,1490.6 1594.8,1484 1679.5,1484 1688.9,1472.1 1905.1,1472.1 1914.5,1458.6 3701.1,1458.6"/>
<polyline stroke="#2889bc" points="269,2117.7 568,2117.7 569.8,2105.4 574.4,2066.4 579,2030.9 598.4,2030.9 606.5,2023.4 710.7,2022.9 718.7,2011.4 730.2,1998.8 748.5,1992 780.6,1990.8 908.4,1990.8 917.8,1987.7 927.2,1970.5 936.6,1956.5 946,1942.6 964.8,1942.6 974.2,1935.4 1030.6,1935.4 1040,1893.4 1049.4,1851.5 1105.9,1851.5 1115.3,1805.6 1124.7,1733.6 1218.7,1733.6 1228.1,1714.4 1237.5,1684.9 1246.9,1611.4 1256.3,1611.4 1265.7,1597.9 1350.3,1597.9 1359.7,1546.3 1444.4,1546.3 1453.8,1545.3 1463.2,1544.4 1491.4,1544.4 1500.8,1529.6 1557.2,1529.6 1566.6,1525.8 1576,1522 1651.2,1522 1660.6,1497.3 1735.9,1497.3 1745.3,1492.8 1754.7,1488.3 1876.9,1488.3 1886.3,1469.6 1895.7,1450.9 3701.6,1450.9"/>
<polyline stroke="#2687bc" points="269,2117.7 697,2117.7 698.1,2105.4 699.7,2032.1 701.5,1943.2 860.8,1943.2 889.6,1943.2 899,1941.7 908.4,1940.3 917.8,1938.9 927.2,1938.9 936.6,1937.6 946,1936.2 955.4,1855.1 993,1855.1 1002.4,1852.1 1011.8,1849.1 1021.2,1846.1 1115.3,1846.1 1124.7,1835.5 1134.1,1825 1143.5,1814.5 1228.1,1814.5 1237.5,1785.7 1246.9,1756.8 1256.3,1728 1284.5,1728 1293.9,1722.4 1303.3,1722.4 1312.7,1693.6 1322.1,1642.3 1331.5,1613.4 1416.2,1613.4 1425.6,1603.1 1444.4,1603.1 1453.8,1574.2 1463.2,1545.2 1472.6,1545.2 1482,1501.9 1491.4,1458.7 1500.8,1443.9 1641.8,1443.9 1651.2,1442.9 1660.6,1441.9 1670,1440.9 2159,1440.9 2168.4,1437.4 2177.8,1434 3701.6,1434"/>
<polyline stroke="#2586bb" points="269,2117.7 758,2117.7 767.4,2097.3 776.8,2076.8 786.2,2022.1 795.6,1987.8 852,1987.8 861.4,1981.9 870.8,1975.9 899,1975.9 908.4,1970.9 917.8,1965.8 927.2,1965.8 936.6,1955.9 946,1945.9 1002.4,1945.9 1011.8,1938.4 1021.2,1932.9 1030.6,1927.5 1068.3,1927.5 1077.7,1925.8 1087.1,1924.2 1171.7,1924.2 1181.1,1862.9 1190.5,1801.6 1237.5,1801.6 1246.9,1797.7 1256.3,1793.7 1265.7,1787 1275.1,1784.3 1284.5,1779.2 1293.9,1776.8 1303.3,1774.5 1312.7,1774.5 1322.1,1767.3 1369.2,1767.3 1378.6,1763.2 1406.8,1763.2 1416.2,1733.8 1425.6,1696.1 1576,1696.1 1585.4,1628.6 1632.4,1628.6 1641.8,1626 1651.2,1620.1 1660.6,1614.2 1670,1611 1679.5,1565.8 1698.3,1565.8 1707.7,1530.4 1820.5,1530.4 1829.9,1528.1 1839.3,1527.3 1848.7,1526.5 1886.3,1526.5 1895.7,1512 2018,1512 2027.4,1411.5 2036.8,1410.4 2046.2,1409.3 3701.1,1409.3"/>
<polyline stroke="#2384ba" points="269,2117.7 814.4,2117.7 823.8,2112.8 842.6,2112.8 852,2111.5 861.4,2101.9 870.8,2101.9 880.2,2078.7 889.6,2055.4 917.8,2055.4 927.2,2053.4 936.6,2051.4 983.6,2051.4 993,1921.8 1002.4,1879.4 1011.8,1879.4 1021.2,1840.3 1030.6,1762.7 1040,1757.7 1087.1,1757.7 1096.5,1701.5 1171.7,1701.5 1181.1,1686.3 1190.5,1671.1 1199.9,1655.9 1378.6,1655.9 1388,1620.5 1397.4,1620.5 1406.8,1600.8 1453.8,1600.8 1463.2,1599.3 1547.8,1599.3 1557.2,1592.9 1576,1592.9 1585.4,1561.2 1604.2,1561.2 1613.6,1548.5 1623,1535.8 1651.2,1535.8 1660.6,1501.3 1811.1,1501.3 1820.5,1485.1 2168.4,1485.1 2177.8,1469.4 2187.2,1453.7 2196.6,1437.9 2224.8,1437.9 2234.2,1419.8 2243.6,1401.6 3701.1,1401.6"/>
<polyline stroke="#2282b9" points="269,2117.7 635.7,2117.7 645.1,2116.6 654.5,2115.6 663.9,2114.5 833.2,2114.5 842.6,2103.1 861.4,2103.1 870.8,2095 880.2,2086.9 889.6,2078.9 955.4,2078.9 964.8,2064 983.6,2064 993,2058.9 1011.8,2058.9 1021.2,2011.5 1209.3,2011.5 1218.7,1995.3 1237.5,1995.3 1246.9,1977.8 1256.3,1960.2 1322.1,1960.2 1331.5,1957.7 1340.9,1955.2 1350.3,1952.8 1369.2,1952.8 1378.6,1914.9 1388,1877 1500.8,1877 1510.2,1857.8 1547.8,1857.8 1557.2,1838.4 1585.4,1838.4 1594.8,1831.8 1604.2,1831.8 1613.6,1804.6 1623,1671.3 1660.6,1671.3 1670,1670.2 1679.5,1667.8 1745.3,1667.8 1754.7,1630.4 1764.1,1574.1 1811.1,1574.1 1820.5,1555.3 1905.1,1555.3 1914.5,1553.1 1923.9,1550.9 1933.3,1548.7 2018,1548.7 2027.4,1442.6 2093.2,1442.6 2102.6,1426.8 2112,1411 2121.4,1395.2 2243.6,1395.2 2253,1391.1 2318.9,1391.1 2328.3,1389.7 2337.7,1388.4 2347.1,1387 3701.1,1387"/>
<polyline stroke="#2081b8" points="269,2117.7 720.3,2117.7 729.7,2113.6 739.2,2109.4 748.6,2105.3 842.6,2105.3 852,2055.9 861.4,2006.5 880.2,2006.5 889.6,1987.4 946,1987.4 955.4,1979.9 964.8,1972.4 983.6,1972.4 993,1939.5 1002.4,1906.6 1011.8,1873.6 1077.7,1873.6 1087.1,1855.4 1134.1,1855.4 1143.5,1853.9 1152.9,1852.4 1190.5,1852.4 1199.9,1824.3 1209.3,1824.3 1218.7,1819.2 1228.1,1814.2 1237.5,1809.1 1275.1,1809.1 1284.5,1801.4 1322.1,1801.4 1331.5,1760.4 1453.8,1760.4 1463.2,1738.7 1472.6,1717.1 1547.8,1717.1 1557.2,1716 1566.6,1714.9 1576,1714.9 1585.4,1711.2 1594.8,1711.2 1604.2,1710.3 1613.6,1705.4 1623,1701.3 1632.4,1698.1 1651.2,1698.1 1660.6,1687.6 1670,1664.4 1679.5,1651.7 1745.3,1651.7 1754.7,1553 1782.9,1553 1792.3,1516.2 1801.7,1479.3 1867.5,1479.3 1876.9,1470 1895.7,1470 1905.1,1466.6 1914.5,1458.6 1923.9,1408.6 1933.3,1400.6 2055.6,1400.6 2065,1389.1 2112,1389.1 2121.4,1386.2 3701.1,1386.2"/>
<polyline stroke="#1f7fb8" points="269,2117.7 861.4,2117.7 870.8,2038.6 993,2038.6 1002.4,2033.7 1011.8,2011.9 1021.2,1990.8 1030.6,1986.7 1068.3,1986.7 1077.7,1982.8 1087.1,1982.8 1096.5,1979.3 1115.3,1979.3 1124.7,1974.4 1134.1,1969.6 1162.3,1969.6 1171.7,1744.5 1237.5,1744.5 1246.9,1739.6 1256.3,1737.4 1378.6,1737.4 1388,1732.3 1538.4,1732.3 1547.8,1634.3 1557.2,1536.2 1613.6,1536.2 1623,1534.8 1632.4,1533.4 1641.8,1532.5 1651.2,1531.5 1660.6,1530.6 1745.3,1530.6 1754.7,1500.6 1801.7,1500.6 1811.1,1495.4 1820.5,1490.2 1829.9,1475.5 1839.3,1475.5 1848.7,1451.3 1858.1,1427.1 1867.5,1403 1942.7,1403 1952.1,1394.5 1961.5,1389.1 1970.9,1383.7 2328.3,1383.7 2337.7,1379.6 2347.1,1375.5 3701.1,1375.5"/>
<polyline stroke="#1d7eb7" points="269,2117.7 861.4,2117.7 870.8,2116.1 880.2,2114.6 908.4,2114.6 917.8,2109.3 927.2,2104 936.6,2104 946,2077.6 955.4,2051.3 964.8,2025 993,2025 1002.4,2015.2 1011.8,2005.8 1021.2,1955.4 1030.6,1946 1077.7,1946 1087.1,1887.6 1096.5,1829.2 1105.9,1650.2 1134.1,1650.2 1143.5,1643.6 1152.9,1634.6 1162.3,1625.6 1171.7,1616.7 1312.7,1616.7 1322.1,1594.9 1331.5,1575.5 1359.7,1575.5 1369.2,1571 1378.6,1566.4 1397.4,1566.4 1406.8,1563.4 1482,1563.4 1491.4,1497.7 1500.8,1461.2 1576,1461.2 1585.4,1427.6 1594.8,1394 1670,1394 1679.5,1388.4 1688.9,1360.1 3701.1,1360.1"/>
<polyline stroke="#1b7cb6" points="269,2117.7 748.6,2117.7 758,2113.3 852,2113.3 861.4,2109 870.8,2109 880.2,2106.4 889.6,2106.4 899,2057.8 908.4,2009.2 946,2009.2 955.4,2008.1 964.8,2007 1021.2,2007 1030.6,1975.5 1096.5,1975.5 1105.9,1953.4 1115.3,1931.3 1124.7,1924.1 1134.1,1916.9 1143.5,1909.8 1378.6,1909.8 1388,1788.4 1435,1788.4 1444.4,1781.3 1453.8,1774.3 1463.2,1767.2 1510.2,1767.2 1519.6,1753.1 1529,1753.1 1538.4,1752.5 1547.8,1752 1557.2,1751.4 1566.6,1751.4 1576,1738.4 1632.4,1738.4 1641.8,1735.5 1651.2,1735.5 1660.6,1730.7 1670,1725.9 1679.5,1721.1 1698.3,1721.1 1707.7,1712.6 1754.7,1712.6 1764.1,1694.9 1773.5,1677.2 1829.9,1677.2 1839.3,1616.6 1848.7,1555.9 2055.6,1555.9 2065,1544.1 2074.4,1532.2 2262.4,1532.2 2271.8,1513.7 2281.2,1495.2 2290.6,1355.4 3701.1,1355.4"/>
<polyline stroke="#1a7ab5" points="269,2117.7 917.8,2117.7 927.2,2108.2 1011.8,2108.2 1021.2,2054.6 1030.6,2032 1040,1995.4 1049.4,1986.8 1058.9,1948.4 1068.3,1910.1 1077.7,1910.1 1087.1,1886.5 1115.3,1886.5 1124.7,1867.5 1134.1,1837.3 1143.5,1825.5 1152.9,1795.6 1237.5,1795.6 1246.9,1786 1256.3,1776.5 1265.7,1776.5 1275.1,1685.3 1322.1,1685.3 1331.5,1684.3 1340.9,1683.4 1359.7,1683.4 1369.2,1673 1472.6,1673 1482,1628 1491.4,1582.9 1500.8,1521.3 1510.2,1507 1660.6,1507 1670,1480.8 1679.5,1454.5 1717.1,1454.5 1726.5,1429.8 1735.9,1405.2 1745.3,1380.5 1792.3,1380.5 1801.7,1375.1 1811.1,1366.1 2159,1366.1 2168.4,1352.4 3701.1,1352.4"/>
<polyline stroke="#1879b4" points="269,2117.7 842.6,2117.7 852,2074 889.6,2074 899,2049.3 1002.4,2049.3 1011.8,2012.2 1021.2,1975.1 1096.5,1975.1 1105.9,1974.4 1115.3,1973.6 1162.3,1973.6 1171.7,1924.1 1181.1,1874.6 1218.7,1874.6 1228.1,1872.1 1237.5,1866.6 1491.4,1866.6 1500.8,1865.5 1510.2,1864.4 1519.6,1863.3 1529,1863.3 1538.4,1845 1547.8,1826.7 1557.2,1824.3 1566.6,1774.9 1576,1743.9 1604.2,1743.9 1613.6,1740.9 1623,1695.9 1641.8,1695.9 1651.2,1686.3 1660.6,1676.7 1670,1628.4 1679.5,1580.2 1717.1,1580.2 1726.5,1556.7 1735.9,1519.8 1745.3,1506.9 1773.5,1506.9 1782.9,1504 1792.3,1501.2 1858.1,1501.2 1867.5,1499.1 1895.7,1499.1 1905.1,1424.9 1952.1,1424.9 1961.5,1416 1970.9,1407.1 1980.3,1398.2 2008.6,1398.2 2018,1373.7 2027.4,1349.3 3701.1,1349.3"/>
<polyline stroke="#1777b4" points="269,2117.7 842.6,2117.7 852,2073.9 964.8,2073.9 974.2,1935.8 983.6,1935.8 993,1933.3 1002.4,1930.8 1049.4,1930.8 1058.9,1893.9 1068.3,1857.1 1077.7,1853.1 1087.1,1849.2 1096.5,1845.2 1105.9,1845.2 1115.3,1821.1 1124.7,1792.3 1171.7,1792.3 1181.1,1758.6 1190.5,1753.4 1199.9,1748.3 1246.9,1748.3 1256.3,1745.5 1265.7,1745.5 1275.1,1649.2 1312.7,1649.2 1322.1,1637.5 1331.5,1637.5 1340.9,1597.4 1406.8,1597.4 1416.2,1592.7 1425.6,1592.7 1435,1585.1 1547.8,1585.1 1557.2,1580.4 1651.2,1580.4 1660.6,1549.4 1707.7,1549.4 1717.1,1548.4 1726.5,1547.3 1735.9,1546.3 1829.9,1546.3 1839.3,1542.6 1848.7,1538.9 1867.5,1538.9 1876.9,1363.4 2328.3,1363.4 2337.7,1355.6 2347.1,1347.8 2356.5,1340.1 3701.1,1340.1"/>
<polyline stroke="#1575b3" points="269,2117.7 852,2117.7 861.4,2116 936.6,2116 946,2112.8 955.4,2109.6 964.8,2106.4 1002.4,2106.4 1011.8,2050.3 1021.2,1994.3 1058.9,1994.3 1068.3,1993.4 1077.7,1992.6 1087.1,1992.6 1096.5,1962.1 1105.9,1953.2 1115.3,1948.8 1124.7,1948.8 1134.1,1946.6 1152.9,1946.6 1162.3,1834.5 1171.7,1834.5 1181.1,1824.8 1190.5,1815.2 1199.9,1783.8 1209.3,1756 1218.7,1749.4 1275.1,1749.4 1284.5,1710.4 1312.7,1710.4 1322.1,1685.4 1331.5,1661.6 1340.9,1661.1 1350.3,1659.5 1359.7,1658.5 1369.2,1657.4 1500.8,1657.4 1510.2,1638.5 1519.6,1638.5 1529,1635.6 1538.4,1635.6 1547.8,1604.3 1576,1604.3 1585.4,1577.2 1594.8,1550.1 1623,1550.1 1632.4,1494 1641.8,1438 1670,1438 1679.5,1420.2 1688.9,1402.4 1735.9,1402.4 1745.3,1398.9 1754.7,1395.4 1792.3,1395.4 1801.7,1335.4 3701.1,1335.4"/>
<polyline stroke="#1374b2" points="269,2117.7 767.4,2117.7 776.8,2059.8 805,2059.8 814.4,2048.6 823.8,2033.4 833.2,2019.5 842.6,2005.7 964.8,2005.7 974.2,2004.3 983.6,2002.8 1030.6,2002.8 1040,1956.8 1105.9,1956.8 1115.3,1952.7 1124.7,1928.9 1134.1,1927.7 1143.5,1926.4 1152.9,1926.4 1162.3,1895 1209.3,1895 1218.7,1871.3 1228.1,1850.7 1237.5,1813.6 1246.9,1766 1256.3,1691.8 1265.7,1665.4 1275.1,1664.6 1303.3,1664.6 1312.7,1655.5 1322.1,1646.5 1331.5,1637.5 1350.3,1637.5 1359.7,1621.2 1425.6,1621.2 1435,1617.8 1463.2,1617.8 1472.6,1605.2 1482,1592.5 1585.4,1592.5 1594.8,1583.4 1613.6,1583.4 1623,1582.3 1632.4,1581.3 1641.8,1581.3 1651.2,1490.5 1660.6,1443.8 1670,1443.8 1679.5,1332.5 1811.1,1332.5 1820.5,1330.8 3701.1,1330.8"/>
<polyline stroke="#1272b1" points="269,2117.7 654.5,2117.7 663.9,2033.8 739.2,2033.8 748.6,2032.2 758,2030.5 927.2,2030.5 936.6,1961.9 946,1961.9 955.4,1877.6 1002.4,1877.6 1011.8,1876.5 1030.6,1876.5 1040,1874.5 1049.4,1872.5 1058.9,1870.5 1068.3,1870.5 1077.7,1869.5 1087.1,1868.5 1143.5,1868.5 1152.9,1867 1162.3,1867 1171.7,1855.2 1181.1,1770.9 1218.7,1770.9 1228.1,1766.4 1237.5,1766.4 1246.9,1765.3 1256.3,1764.1 1265.7,1764.1 1275.1,1758.3 1284.5,1750.7 1397.4,1750.7 1406.8,1666.5 1547.8,1666.5 1557.2,1657.8 1566.6,1649.1 1576,1649.1 1585.4,1646 1594.8,1642.8 1651.2,1642.8 1660.6,1597.5 1670,1574.7 1679.5,1549.2 1745.3,1549.2 1754.7,1464.9 1792.3,1464.9 1801.7,1380.6 1952.1,1380.6 1961.5,1360.9 1970.9,1341.3 1980.3,1321.6 3701.1,1321.6"/>
<polyline stroke="#1071b0" points="269,2117.7 692.1,2117.7 701.5,2116.9 710.9,2116.2 823.8,2116.2 833.2,2061.7 842.6,2025.2 852,2025.2 861.4,2017.5 870.8,2009.8 899,2009.8 908.4,2008.3 927.2,2008.3 936.6,1991.9 955.4,1991.9 964.8,1961.4 974.2,1930.9 983.6,1900.4 1002.4,1900.4 1011.8,1885 1021.2,1869.7 1030.6,1854.3 1040,1828.2 1124.7,1828.2 1134.1,1824.2 1237.5,1824.2 1246.9,1798.5 1256.3,1772.8 1265.7,1747.1 1293.9,1747.1 1303.3,1692.6 1312.7,1638 1322.1,1638 1331.5,1630 1340.9,1616.8 1350.3,1603.7 1378.6,1603.7 1388,1601 1397.4,1598.4 1453.8,1598.4 1463.2,1543.8 1472.6,1489.3 1500.8,1489.3 1510.2,1481.7 1519.6,1464.7 1547.8,1464.7 1557.2,1454.6 1594.8,1454.6 1604.2,1449 1613.6,1443.5 1623,1420.1 1632.4,1396.8 1698.3,1396.8 1707.7,1395.3 1717.1,1393.8 1792.3,1393.8 1801.7,1317.7 3701.1,1317.7"/>
<polyline stroke="#0f6faf" points="269,2117.7 739.2,2117.7 748.6,2112.9 758,2108.1 795.6,2108.1 805,2103.2 814.4,2098.2 823.8,2097.6 833.2,2096.9 955.4,2096.9 964.8,2094.8 974.2,2092.7 993,2092.7 1002.4,2089.4 1011.8,2086.2 1068.3,2086.2 1077.7,2045.1 1087.1,2004 1096.5,1945.5 1105.9,1903.7 1115.3,1901.8 1124.7,1899.9 1134.1,1898 1143.5,1889.2 1152.9,1880.4 1162.3,1851.3 1171.7,1822.2 1293.9,1822.2 1303.3,1819.3 1312.7,1732.9 1322.1,1730.6 1378.6,1730.6 1388,1702.8 1397.4,1674.9 1406.8,1647.1 1416.2,1629.3 1425.6,1611.5 1435,1611.5 1444.4,1591.6 1453.8,1549.8 1463.2,1508 1472.6,1508 1482,1484.2 1491.4,1460.4 1529,1460.4 1538.4,1459.2 1594.8,1459.2 1604.2,1457 1613.6,1457 1623,1440.9 1632.4,1425.7 1641.8,1410.4 1745.3,1410.4 1754.7,1362.1 1764.1,1359.9 1970.9,1359.9 1980.3,1324.9 2347.1,1324.9 2356.5,1319.4 2365.9,1313.9 3701.1,1313.9"/>
<polyline stroke="#0d6daf" points="269,2117.7 701.5,2117.7 710.9,2102.5 908.4,2102.5 917.8,2090.8 927.2,2079.1 936.6,2067.3 974.2,2067.3 983.6,2042 993,2026.4 1002.4,2010.8 1040,2010.8 1049.4,1983.8 1058.9,1983.8 1068.3,1934.7 1077.7,1885.6 1105.9,1885.6 1115.3,1868.3 1124.7,1850.9 1134.1,1833.6 1162.3,1833.6 1171.7,1810.6 1199.9,1810.6 1209.3,1762.2 1246.9,1762.2 1256.3,1752.6 1265.7,1743.1 1284.5,1743.1 1293.9,1730.2 1303.3,1728.8 1312.7,1727.4 1340.9,1727.4 1350.3,1701 1359.7,1674.5 1369.2,1630 1378.6,1605.7 1388,1503.3 1623,1503.3 1632.4,1501.2 1679.5,1501.2 1688.9,1417.1 1726.5,1417.1 1735.9,1374.4 1745.3,1331.6 1782.9,1331.6 1792.3,1295 1801.7,1285.5 2065,1285.5 2074.4,1282.8 2083.8,1280 3701.1,1280"/>
<polyline stroke="#0c6cae" points="269,2117.7 687,2117.7 688.9,2105.4 691.2,2002.3 700.4,1994.3 730.2,1993.8 734.8,1917.5 739.8,1890 964.8,1890 974.2,1880.5 1030.6,1880.5 1040,1873.7 1049.4,1872.1 1058.9,1870.6 1068.3,1870.6 1077.7,1780.4 1087.1,1779.7 1096.5,1779.1 1105.9,1778.4 1143.5,1778.4 1152.9,1672.5 1181.1,1672.5 1190.5,1649.2 1275.1,1649.2 1284.5,1632.3 1293.9,1615.4 1303.3,1615.4 1312.7,1603.1 1444.4,1603.1 1453.8,1601.6 1482,1601.6 1491.4,1598.6 1500.8,1594.5 1510.2,1593.4 1519.6,1593.4 1529,1578.1 1538.4,1551.2 1547.8,1524.3 1557.2,1418.4 1594.8,1418.4 1604.2,1412.6 1613.6,1406.7 1764.1,1406.7 1773.5,1390.2 1782.9,1373.8 1792.3,1357.3 1848.7,1357.3 1858.1,1270.8 3701.6,1270.8"/>
<polyline stroke="#0a6aad" points="269,2117.7 608,2117.7 609.9,2105.4 612.9,2022.9 615.6,1963.3 617.9,1928.9 620.2,1917.5 626.6,1893.4 815,1893.4 824.1,1888.2 900,1888.2 917.8,1888.2 927.2,1874.1 1049.4,1874.1 1058.9,1869.3 1096.5,1869.3 1105.9,1867.5 1115.3,1865.8 1143.5,1865.8 1152.9,1855.7 1162.3,1845.7 1171.7,1835.6 1209.3,1835.6 1218.7,1815.5 1228.1,1795.4 1303.3,1795.4 1312.7,1792 1322.1,1788.6 1331.5,1785.2 1340.9,1692.4 1359.7,1692.4 1369.2,1669.2 1378.6,1646 1388,1622 1397.4,1622 1406.8,1596.6 1416.2,1571.2 1500.8,1571.2 1510.2,1554.3 1576,1554.3 1585.4,1551 1594.8,1547.7 1623,1547.7 1632.4,1454.9 1641.8,1408.4 1651.2,1362 1754.7,1362 1764.1,1359.2 1773.5,1356.4 1858.1,1356.4 1867.5,1353.1 1876.9,1322.2 1886.3,1291.2 1895.7,1260.3 2215.4,1260.3 2224.8,1259.4 2234.2,1258.5 2243.6,1258.5 2253,1255.4 3701.6,1255.4"/>
<polyline stroke="#0868ac" points="269,2117.7 609,2117.7 611,2105.4 619.1,2071 626.6,2054.3 636.2,2053.8 645.4,2048.1 705,2047.6 746.2,2045.8 760,2043.5 833.2,2043.5 842.6,2039.3 852,2035.1 899,2035.1 908.4,2032.5 936.6,2032.5 946,2025.8 955.4,2025.8 964.8,1996.7 983.6,1996.7 993,1986.5 1002.4,1976.3 1011.8,1966.1 1030.6,1966.1 1040,1950.8 1049.4,1935.6 1068.3,1935.6 1077.7,1888.5 1134.1,1888.5 1143.5,1852.9 1162.3,1852.9 1171.7,1849.1 1209.3,1849.1 1218.7,1841.5 1228.1,1833.9 1237.5,1833.9 1246.9,1786.6 1256.3,1765.2 1265.7,1763.1 1275.1,1761 1312.7,1761 1322.1,1748.3 1444.4,1748.3 1453.8,1732.1 1500.8,1732.1 1510.2,1621.5 1519.6,1574.3 1557.2,1574.3 1566.6,1426.6 1858.1,1426.6 1867.5,1407.7 1876.9,1364.3 1886.3,1339.8 1905.1,1339.8 1914.5,1330.7 1942.7,1330.7 1952.1,1329.1 1961.5,1327.4 2187.2,1327.4 2196.6,1312.5 2206,1297.6 2290.6,1297.6 2300,1237.2 2309.5,1176.8 3701.6,1176.8"/>
<polyline stroke="#0867aa" points="269,2117.7 586,2117.7 588.1,2105.4 597.3,2057.3 607.6,2040.8 654.6,2040.5 664.9,2025.2 670.6,2020.6 709.6,2020.1 721,2005.7 778.3,2005 786.3,1981.6 794.4,1977.5 824.1,1977.1 861.4,1977.1 870.8,1968.2 880.2,1959.3 955.4,1959.3 964.8,1943 974.2,1926.8 983.6,1910.5 993,1910.5 1002.4,1902 1011.8,1893.5 1021.2,1884.9 1049.4,1884.9 1058.9,1881.2 1134.1,1881.2 1143.5,1877.1 1152.9,1873.1 1181.1,1873.1 1190.5,1863.9 1209.3,1863.9 1218.7,1847.5 1228.1,1831 1246.9,1831 1256.3,1825.4 1275.1,1825.4 1284.5,1804 1293.9,1782.6 1303.3,1781.6 1369.2,1781.6 1378.6,1780.3 1388,1777.9 1397.4,1777 1406.8,1685.1 1416.2,1591.3 1425.6,1588.4 1435,1585.4 1482,1585.4 1491.4,1582.5 1500.8,1582.5 1510.2,1557.9 1519.6,1537.8 1538.4,1537.8 1547.8,1475.7 1557.2,1475.7 1566.6,1469.1 1594.8,1469.1 1604.2,1424.1 1613.6,1379.2 1623,1367.9 1698.3,1367.9 1707.7,1340.7 1717.1,1313.5 1726.5,1286.4 1735.9,1286.4 1745.3,1230.3 1848.7,1230.3 1858.1,1227.4 1980.3,1227.4 1989.7,1158.3 2027.4,1158.3 2036.8,1156.8 2046.2,1155.3 3701.6,1155.3"/>
<polyline stroke="#0865a9" points="269,2117.7 786.2,2117.7 795.6,2106.9 805,2096.1 823.8,2096.1 833.2,2082.3 842.6,2075.9 946,2075.9 955.4,1973.2 964.8,1884.9 1011.8,1884.9 1021.2,1872.1 1030.6,1872.1 1040,1863.3 1049.4,1861.9 1058.9,1860.4 1068.3,1860.4 1077.7,1856.7 1087.1,1853.2 1096.5,1849.8 1105.9,1846.4 1115.3,1846.4 1124.7,1845.1 1134.1,1843.7 1190.5,1843.7 1199.9,1842.4 1209.3,1841.1 1218.7,1841.1 1228.1,1709.9 1265.7,1709.9 1275.1,1680.1 1369.2,1680.1 1378.6,1675.6 1435,1675.6 1444.4,1538.8 1453.8,1538.8 1463.2,1533.7 1472.6,1533.7 1482,1532.6 1491.4,1531.6 1500.8,1530.5 1529,1530.5 1538.4,1528.7 1547.8,1526.8 1585.4,1526.8 1594.8,1515.1 1660.6,1515.1 1670,1511.9 1679.5,1508.8 1688.9,1505.6 1726.5,1505.6 1735.9,1417.3 1745.3,1329 1754.7,1324.1 1782.9,1324.1 1792.3,1315 1801.7,1305.9 1811.1,1296.8 2262.4,1296.8 2271.8,1194.4 2318.9,1194.4 2328.3,1179.8 2337.7,1165.2 2347.1,1150.6 3701.1,1150.6"/>
<polyline stroke="#0863a7" points="269,2117.7 842.6,2117.7 852,2113.7 861.4,2058.4 870.8,2006.9 917.8,2006.9 927.2,1977.9 936.6,1943.8 964.8,1943.8 974.2,1936.2 983.6,1928.5 993,1904.1 1002.4,1879.6 1068.3,1879.6 1077.7,1824.6 1096.5,1824.6 1105.9,1819.8 1115.3,1814.9 1181.1,1814.9 1190.5,1650.8 1218.7,1650.8 1228.1,1643.1 1237.5,1635.4 1246.9,1603.8 1275.1,1603.8 1284.5,1600.9 1293.9,1597.9 1322.1,1597.9 1331.5,1568.3 1406.8,1568.3 1416.2,1548.4 1425.6,1548.4 1435,1526.2 1444.4,1504 1453.8,1481.8 1463.2,1448.9 1472.6,1410 1482,1403.9 1500.8,1403.9 1510.2,1400.1 1519.6,1396.3 1529,1391.1 1538.4,1391.1 1547.8,1384.7 1557.2,1378.4 1717.1,1378.4 1726.5,1342.8 1735.9,1307.3 1745.3,1200.4 1905.1,1200.4 1914.5,1182.5 1933.3,1182.5 1942.7,1172 2234.2,1172 2243.6,1162.2 2253,1148.2 3701.1,1148.2"/>
<polyline stroke="#0861a5" points="269,2117.7 682.7,2117.7 692.1,2114.2 833.2,2114.2 842.6,2113.5 852,2112.8 861.4,2112.1 880.2,2112.1 889.6,2094.5 899,2046.9 974.2,2046.9 983.6,2042.3 993,2037.8 1002.4,2033.2 1011.8,2033.2 1021.2,2014.1 1049.4,2014.1 1058.9,2013.1 1068.3,2012.1 1077.7,2011.2 1096.5,2011.2 1105.9,2010.4 1115.3,2009.6 1124.7,1990.7 1134.1,1990.7 1143.5,1989.4 1152.9,1988.2 1162.3,1988.2 1171.7,1980.4 1181.1,1972.7 1190.5,1921.7 1199.9,1870.7 1209.3,1819.6 1265.7,1819.6 1275.1,1767.7 1322.1,1767.7 1331.5,1649.6 1340.9,1608.3 1350.3,1567.1 1359.7,1567.1 1369.2,1469.7 1406.8,1469.7 1416.2,1453.9 1425.6,1438 1482,1438 1491.4,1435.9 1500.8,1433.8 1538.4,1433.8 1547.8,1429.8 1557.2,1425.8 1566.6,1389.8 1576,1389.8 1585.4,1389 1594.8,1320.5 1604.2,1319.7 1632.4,1319.7 1641.8,1314.5 1651.2,1309.3 1660.6,1309.3 1670,1251.7 1679.5,1238.1 1688.9,1228.4 1717.1,1228.4 1726.5,1217.3 1754.7,1217.3 1764.1,1210.6 1773.5,1204 1782.9,1194.3 1792.3,1184.6 2027.4,1184.6 2036.8,1172.1 2187.2,1172.1 2196.6,1142.9 3701.1,1142.9"/>
<polyline stroke="#085fa3" points="269,2117.7 668,2117.7 671.8,2105.4 673.6,1987.4 700.4,1987.4 702.7,1979.4 710.7,1941.5 730.2,1941.5 734.8,1917.5 739.4,1892.3 748.5,1885.4 757.7,1883.6 769.1,1880.1 786.3,1879.7 795.5,1872.3 813.8,1872.1 824.1,1866.6 833.3,1866.2 837.9,1848.7 843.6,1814.4 852.8,1786.4 871.7,1785.3 880.2,1686.8 926.9,1684.7 939.6,1678.3 946,1676.2 956.6,1646.5 973.6,1646.5 984.2,1555.2 992.7,1508.5 1100.9,1506.4 1256.3,1506.4 1265.7,1496.8 1491.4,1496.8 1500.8,1481.3 1585.4,1481.3 1594.8,1388.2 1604.2,1364.9 1707.7,1364.9 1717.1,1311.6 1754.7,1311.6 1764.1,1293.4 1773.5,1275.1 1782.9,1275.1 1792.3,1271.8 1829.9,1271.8 1839.3,1248.3 1848.7,1218.8 1980.3,1218.8 1989.7,1124.9 2027.4,1124.9 2036.8,1123.5 2046.2,1122 2187.2,1122 2196.6,1116.8 3701.6,1116.8"/>
<polyline stroke="#085ea1" points="269,2117.7 814.4,2117.7 823.8,2117.1 833.2,2116.5 842.6,2115.8 852,2092.3 861.4,2068.7 870.8,2045.2 889.6,2045.2 899,1995.2 1115.3,1995.2 1124.7,1987.5 1143.5,1987.5 1152.9,1954.1 1162.3,1920.8 1171.7,1920.8 1181.1,1859.8 1190.5,1733.6 1218.7,1733.6 1228.1,1732 1237.5,1732 1246.9,1722.2 1256.3,1712.4 1265.7,1697 1275.1,1691.3 1303.3,1691.3 1312.7,1656.6 1322.1,1621.9 1331.5,1587.2 1340.9,1570.8 1350.3,1552.9 1359.7,1551.3 1388,1551.3 1397.4,1528.1 1406.8,1526.2 1425.6,1526.2 1435,1485.5 1444.4,1438.3 1453.8,1393.3 1623,1393.3 1632.4,1365.9 1641.8,1338.5 1651.2,1338.5 1660.6,1216.5 1670,1216.5 1679.5,1190.4 1688.9,1190.4 1698.3,1177.1 1707.7,1163.9 1717.1,1163.9 1726.5,1156.9 1735.9,1155.5 1745.3,1154.1 1886.3,1154.1 1895.7,1151.9 1905.1,1149.7 1942.7,1149.7 1952.1,1144.1 1961.5,1138.6 2243.6,1138.6 2253,1110.6 3701.1,1110.6"/>
<polyline stroke="#085c9f" points="269,2117.7 729.7,2117.7 739.2,2115.5 748.6,2113.2 758,2111 767.4,2107.6 776.8,2102.4 786.2,2097.1 795.6,2095.2 983.6,2095.2 993,2074.6 1002.4,2016.8 1011.8,2011.8 1143.5,2011.8 1152.9,1987.8 1162.3,1986.8 1171.7,1985.9 1181.1,1983.6 1190.5,1981.3 1199.9,1979.1 1209.3,1979.1 1218.7,1974.4 1237.5,1974.4 1246.9,1798.1 1256.3,1797.1 1284.5,1797.1 1293.9,1782.2 1303.3,1759.5 1312.7,1736.7 1322.1,1729 1350.3,1729 1359.7,1727.4 1369.2,1725.8 1378.6,1724.3 1425.6,1724.3 1435,1721.2 1463.2,1721.2 1472.6,1712.5 1482,1703.8 1500.8,1703.8 1510.2,1666.5 1538.4,1666.5 1547.8,1657 1594.8,1657 1604.2,1643.5 1613.6,1630 1623,1603 1632.4,1542.2 1641.8,1485.9 1651.2,1438.5 1688.9,1438.5 1698.3,1425.7 1707.7,1373.4 1717.1,1321 1754.7,1321 1764.1,1317.3 1773.5,1313.5 1811.1,1313.5 1820.5,1291.4 1839.3,1291.4 1848.7,1257.2 1886.3,1257.2 1895.7,1115 1980.3,1115 1989.7,1099.8 3701.1,1099.8"/>
<polyline stroke="#085a9d" points="269,2117.7 908.4,2117.7 917.8,2104.3 927.2,2050.8 936.6,2029.4 946,2021.4 1087.1,2021.4 1096.5,1964.9 1105.9,1908.4 1115.3,1894.6 1124.7,1852.8 1134.1,1824.8 1143.5,1796.8 1181.1,1796.8 1190.5,1784.8 1228.1,1784.8 1237.5,1783.9 1246.9,1782.9 1265.7,1782.9 1275.1,1755.6 1284.5,1680.4 1293.9,1632.6 1331.5,1632.6 1340.9,1581.9 1350.3,1533.6 1463.2,1533.6 1472.6,1528.3 1482,1522.9 1519.6,1522.9 1529,1505.2 1613.6,1505.2 1623,1501.6 1632.4,1495.6 1641.8,1464.1 1651.2,1449.8 1660.6,1441.6 1670,1414.2 1679.5,1262.9 1707.7,1262.9 1717.1,1250.2 1726.5,1220.4 1735.9,1214 1745.3,1094.5 1764.1,1094.5 1773.5,1091 1782.9,1087.4 1829.9,1087.4 1839.3,1086.4 1848.7,1085.4 1858.1,1084.4 3701.1,1084.4"/>
<polyline stroke="#08589b" points="269,2117.7 823.8,2117.7 833.2,2030.6 908.4,2030.6 917.8,2025.3 927.2,2020.1 936.6,2014.8 974.2,2014.8 983.6,2010.1 993,1984.1 1002.4,1962.3 1011.8,1945.3 1058.9,1945.3 1068.3,1866.1 1077.7,1786.9 1096.5,1786.9 1105.9,1743.6 1115.3,1712.2 1124.7,1712.2 1134.1,1701.9 1162.3,1701.9 1171.7,1664.2 1181.1,1664.2 1190.5,1637 1293.9,1637 1303.3,1553.1 1322.1,1553.1 1331.5,1534 1350.3,1534 1359.7,1522 1369.2,1522 1378.6,1479.7 1519.6,1479.7 1529,1413.1 1566.6,1413.1 1576,1404.1 1585.4,1395.2 1594.8,1395.2 1604.2,1365.7 1613.6,1365.7 1623,1289.2 1632.4,1212.6 1641.8,1211.4 1651.2,1210.2 1660.6,1207.1 1670,1167.1 1679.5,1140.8 1688.9,1140.8 1698.3,1080.5 1707.7,1080.5 1717.1,1075.6 1811.1,1075.6 1820.5,1070.6 3701.1,1070.6"/>
<polyline stroke="#085699" points="269,2117.7 861.4,2117.7 870.8,2061.5 880.2,2005.3 917.8,2005.3 927.2,1990.4 936.6,1975.4 946,1971.5 974.2,1971.5 983.6,1964.8 993,1962.9 1002.4,1961.1 1011.8,1961.1 1021.2,1943.2 1030.6,1925.4 1040,1907.5 1049.4,1907.5 1058.9,1905.8 1068.3,1905.8 1077.7,1903.7 1087.1,1901.6 1096.5,1877.3 1162.3,1877.3 1171.7,1874.8 1209.3,1874.8 1218.7,1870.4 1228.1,1865.1 1237.5,1859.8 1246.9,1854.6 1275.1,1854.6 1284.5,1835.2 1293.9,1815.9 1303.3,1781.2 1312.7,1781.2 1322.1,1777.9 1369.2,1777.9 1378.6,1717.8 1388,1661.6 1406.8,1661.6 1416.2,1637.4 1425.6,1631.2 1435,1622.4 1444.4,1619.7 1472.6,1619.7 1482,1618.3 1491.4,1616.9 1500.8,1616.9 1510.2,1592.8 1519.6,1568.6 1529,1509.6 1538.4,1508.9 1547.8,1508.2 1557.2,1507.5 1585.4,1507.5 1594.8,1395.1 1604.2,1395.1 1613.6,1392.9 1623,1390.8 1632.4,1388.6 1679.5,1388.6 1688.9,1351.1 1698.3,1296.9 1707.7,1259.4 1726.5,1259.4 1735.9,1147 1745.3,1147 1754.7,1139.1 1764.1,1131.2 1801.7,1131.2 1811.1,1129.2 1820.5,1127.2 1905.1,1127.2 1914.5,1122.1 1923.9,1117 1970.9,1117 1980.3,1091.3 1989.7,1065.7 2196.6,1065.7 2206,1061.1 2215.4,1056.6 2224.8,1052.1 3701.1,1052.1"/>
<polyline stroke="#085497" points="269,2117.7 805,2117.7 814.4,2088.2 823.8,2088.2 833.2,2083.4 842.6,2078.5 852,2075.9 917.8,2075.9 927.2,2073.5 1011.8,2073.5 1021.2,2070.2 1030.6,2045.2 1040,2020.2 1087.1,2020.2 1096.5,1966.8 1105.9,1948.3 1115.3,1948.3 1124.7,1944.7 1134.1,1921.8 1246.9,1921.8 1256.3,1913.9 1265.7,1906.1 1275.1,1904.7 1284.5,1903.2 1293.9,1901.8 1331.5,1901.8 1340.9,1870.4 1350.3,1769.7 1359.7,1768.4 1369.2,1768.4 1378.6,1758.3 1388,1748.2 1557.2,1748.2 1566.6,1558.7 1576,1539.9 1594.8,1539.9 1604.2,1537.5 1613.6,1525.6 1623,1513.6 1632.4,1456.7 1641.8,1399.7 1651.2,1342.8 1660.6,1342.8 1670,1283.6 1679.5,1278.1 1745.3,1278.1 1754.7,1260 1773.5,1260 1782.9,1089.2 1848.7,1089.2 1858.1,1079.3 1867.5,1069.4 1876.9,1059.5 1900,1059.5 2038,1059.2 2046.5,987 2055,986 3701.6,985.8"/>
<polyline stroke="#085395" points="269,2117.7 870.8,2117.7 880.2,2098.1 889.6,2078.5 899,2078.5 908.4,2030.4 1030.6,2030.4 1040,2028 1068.3,2028 1077.7,2026 1087.1,2023.9 1096.5,2023.9 1105.9,2017.9 1115.3,2011.9 1124.7,2009.6 1134.1,1838.2 1143.5,1838.2 1152.9,1837.3 1162.3,1836.3 1171.7,1822 1190.5,1822 1199.9,1819.3 1209.3,1816.6 1228.1,1816.6 1237.5,1793.1 1246.9,1769.7 1256.3,1769.7 1265.7,1733 1275.1,1696.4 1293.9,1696.4 1303.3,1684.5 1322.1,1684.5 1331.5,1676.2 1482,1676.2 1491.4,1648.3 1500.8,1620.4 1510.2,1620.4 1519.6,1583.2 1529,1560.9 1566.6,1560.9 1576,1545.3 1594.8,1545.3 1604.2,1462.1 1613.6,1458.3 1623,1454.4 1632.4,1450.6 1670,1450.6 1679.5,1446.6 1688.9,1442.6 1717.1,1442.6 1726.5,1394.4 1745.3,1394.4 1754.7,1388.5 1764.1,1377.1 1773.5,1365.7 1782.9,1357.7 1792.3,1337.7 1801.7,1325.7 1811.1,1313.6 1848.7,1313.6 1858.1,1144.5 1867.5,1144.5 1876.9,1060.5 1900,1060.5 1959.4,1059.2 1970,970 1976.4,967.9 2046,966.6 3701.6,965.8"/>
<polyline stroke="#085193" points="269,2117.7 814.4,2117.7 823.8,2019 833.2,2019 842.6,1920.3 946,1920.3 955.4,1919.3 964.8,1918.4 974.2,1917.4 983.6,1917.4 993,1913.8 1002.4,1910.2 1068.3,1910.2 1077.7,1845.5 1115.3,1845.5 1124.7,1842.8 1134.1,1840.2 1143.5,1837.6 1152.9,1825.7 1162.3,1765.1 1171.7,1750.6 1181.1,1743.3 1199.9,1743.3 1209.3,1727.9 1218.7,1721.5 1246.9,1721.5 1256.3,1712.8 1265.7,1712.8 1275.1,1711.6 1284.5,1710.5 1293.9,1709.4 1312.7,1709.4 1322.1,1610.7 1388,1610.7 1397.4,1561.3 1406.8,1512 1453.8,1512 1463.2,1462.6 1472.6,1413.3 1519.6,1413.3 1529,1382.2 1557.2,1382.2 1566.6,1368 1576,1368 1585.4,1359.4 1604.2,1359.4 1613.6,1347.6 1623,1329.7 1632.4,1311.8 1641.8,1298 1651.2,1284.3 1688.9,1284.3 1698.3,1265 1707.7,1245.8 1717.1,1226.6 1726.5,1226.6 1735.9,1225.1 1745.3,1225.1 1754.7,1208.3 1764.1,1191.5 1792.3,1191.5 1801.7,1163.1 1848.7,1163.1 1858.1,1114.4 1900,1114.4 1923.3,1114.4 1942.4,1052 1959.4,1052 1980.7,1027.3 1989.1,1021 1998.5,998.5 2027.4,998.5 2046.5,966.6 2084.7,965 2093.1,953.1 3701.6,953.1"/>
<polyline stroke="#084f91" points="269,2117.7 635.7,2117.7 645.1,2117 654.5,2116.3 682.7,2116.3 692.1,2115.7 701.5,2115.2 710.9,2114.6 889.6,2114.6 899,2101.8 917.8,2101.8 927.2,2092.1 936.6,2082.5 964.8,2082.5 974.2,2067.5 993,2067.5 1002.4,2033 1030.6,2033 1040,2017.7 1049.4,1999 1058.9,1980.2 1087.1,1980.2 1096.5,1968.9 1134.1,1968.9 1143.5,1955.4 1171.7,1955.4 1181.1,1943.6 1190.5,1913.5 1199.9,1883.3 1209.3,1853.1 1218.7,1853.1 1228.1,1816.6 1246.9,1816.6 1256.3,1779.4 1265.7,1772 1275.1,1770.8 1284.5,1770.8 1293.9,1763.7 1312.7,1763.7 1322.1,1626 1388,1626 1397.4,1617.2 1435,1617.2 1444.4,1608.5 1453.8,1599.8 1510.2,1599.8 1519.6,1576.9 1538.4,1576.9 1547.8,1542 1557.2,1507.1 1623,1507.1 1632.4,1502.1 1641.8,1497.1 1651.2,1468.6 1660.6,1445.2 1670,1331.3 1679.5,1325.5 1688.9,1286.2 1698.3,1255.2 1707.7,1230 1713.4,1230 1717.7,1088.2 1726.2,1077.6 1736.8,1077.1 1745.3,1075.4 1755.9,1060.6 1764.4,1052.1 1774.1,1033.8 1783.5,1031.3 1829.3,1030.9 1839.5,1012.6 1857.8,1010.9 1868.4,977.8 1876.9,961.7 1894.7,960.8 1905.7,926 2055.2,925.6 2064.5,876.8 2074.3,870.8 2093.4,870.4 2101.9,867.9 2195.2,867.4 2205.9,865.7 3701.6,865.7"/>
<polyline stroke="#084d8f" points="269,2117.7 823.8,2117.7 833.2,2111.5 842.6,2105.2 852,2100.8 861.4,2094.2 870.8,2063.9 880.2,2062.5 889.6,2047.8 927.2,2047.8 936.6,1866.8 946,1865.1 955.4,1863.3 1002.4,1863.3 1011.8,1838.3 1021.2,1835.6 1077.7,1835.6 1087.1,1832.8 1096.5,1822.2 1105.9,1814.3 1115.3,1754.4 1228.1,1754.4 1237.5,1724.9 1265.7,1724.9 1275.1,1722.9 1284.5,1699.3 1293.9,1693.5 1303.3,1687.7 1322.1,1687.7 1331.5,1685.3 1340.9,1567.1 1435,1567.1 1444.4,1549.3 1453.8,1521.5 1463.2,1511.4 1472.6,1511.4 1482,1474.7 1491.4,1416 1500.8,1416 1510.2,1363.4 1519.6,1310.8 1529,1310.8 1538.4,1309 1547.8,1307.2 1557.2,1305.3 1566.6,1303.6 1576,1278.2 1585.4,1254.6 1651.2,1254.6 1660.6,1190.1 1688,1190.1 1698.6,1129.8 1715.6,1129.8 1726.2,1041.5 1736.8,999 1745.3,976.1 1838.7,975.7 1849.3,931.1 1859,915 1876.9,914.6 1886.2,884.4 1905.7,853.9 1914.2,853.4 1923.6,839 2036.9,838.6 2045.8,830.9 3701.6,830.9"/>
<polyline stroke="#084b8d" points="269,2117.7 654.5,2117.7 663.9,2116.6 673.3,2074.9 682.7,2074.6 720.3,2074.6 729.7,2073.8 795.6,2073.8 805,2073.4 814.4,2065.1 823.8,2064.7 927.2,2064.7 936.6,2046 946,2021.3 983.6,2021.3 993,1999.8 1030.6,1999.8 1040,1973.7 1049.4,1946.4 1058.9,1919 1068.3,1919 1077.7,1917.8 1087.1,1899.6 1096.5,1862.2 1105.9,1817.4 1115.3,1810 1142,1810 1150.7,1500 1159.2,1455.8 1191,1453.7 1203.8,1449.4 1220.7,1445.2 1231.4,1436.7 1242,1417.6 1254.7,1370.9 1271.7,1337 1299.3,1230 1312,1228.7 1322.6,1213.8 1350.2,1213.8 1360.8,1197.7 1369.3,1192.6 1377.8,1179 1387.1,1178.6 1397.8,1163.8 1415.2,1162.9 1435.1,1109.8 1481.8,1109.8 1491.6,1061 1509.4,1060.2 1518.7,1037.7 1529.8,993.1 1538.3,978.2 1556.9,977.4 1566.7,924.3 1585.8,923.5 1602.8,917.5 1632.5,912.5 1649.5,907.4 1657.1,900.6 1717.7,901 1726.2,886.5 1736.8,826.3 1745.3,825.8 1754.6,791.9 1792,791.5 1802.6,783.4 1811.1,779.1 1821.7,777.4 1885.4,777.4 1896,769.8 1904.5,768.1 1942.7,767.7 1951.2,766.4 1989.4,765.6 1999.1,757.1 2008.5,756.6 2017.8,749.4 2064.5,749 2074.3,740.1 3701.6,740"/>
<polyline stroke="#084a8b" points="269,2117.7 635.7,2117.7 645.1,2106 654.5,2106 663.9,2105 776.8,2105 786.2,2077.8 795.6,2077.8 805,2044 814.4,2043 823.8,2043 833.2,2040.1 842.6,1974.1 852,1974.1 861.4,1912.1 870.8,1889.2 880.2,1889.2 889.6,1888.6 899,1876.9 908.4,1865.8 917.8,1854.7 927.2,1854.7 936.6,1850.6 983.6,1850.6 993,1788.6 1030.6,1788.6 1040,1779.9 1049.4,1779.9 1058.9,1770 1138,1770 1146.5,1500 1152.8,1457.9 1171.9,1455.8 1182.5,1441 1190.2,1434.6 1199.5,1309.4 1203.8,1307.2 1278,1307.2 1297.2,1290.3 1305.6,1277.5 1313.3,1275.4 1322.6,1244.8 1340.5,1244.4 1350.2,1234.2 1369.3,1233.4 1377.8,1226.6 1396.9,1225.7 1407.5,1222.3 1435.1,1221.5 1444.5,1218.9 1453.4,1116.2 1509.4,1116.2 1518.7,1044.9 1538.3,1044 1556.9,1015.2 1585,1014.3 1594.3,1007.1 1651.6,1006.7 1651.9,1006.7 1656.1,897.2 1661.2,820.7 1670.6,776.2 1679.5,774 1811.1,774 1821.7,735.8 2008.5,735.8 2017.8,733.7 2027.6,733.3 2036.9,711.2 2045.8,710.8 2056,663.7 2064.5,634 3701.6,633.9"/>
</g>
<g clip-path="url(#ax)">
<polyline class="thick" stroke="#08306b" points="269,2117.7 663.5,2117.7 667.3,2075.5 672,2067.2 795.4,2067.2 809.3,2047.7 814.8,2043.5 861,2043.5 870.8,2014 880.2,2003.4 889.6,1800 899,1777 909.8,1774.5 924.7,1714.4 939.6,1707.2 1001.2,1707.2 1013.9,1693.1 1030.9,1693.1 1039.4,1629.5 1067,1629.5 1077.6,1597.6 1132.8,1597.6 1143.4,1559.4 1151.9,1559.4 1161.2,1550.1 1183.7,1548.8 1192.2,1536.1 1201.9,1536.1 1225,1464.3 1248.3,1462.2 1265.3,1365.8 1275.9,1362.4 1285.3,1347.6 1294.2,1150.2 1313.3,1120.5 1321.8,916.7 1329.5,905.1 1388.9,905.1 1399.5,896.6 1427.1,896.6 1435.6,889.4 1444.1,887.3 1453.9,872.4 1463.2,871.6 1472.5,840.6 1490.8,502.3 1584.2,502.3 1594.8,500.1 1622.4,500.1 1633,498.9 1642.3,498 1652.1,491.6 1660.6,484 1670.3,481.9 1679.7,481.9 1688.2,474.2 1696.7,469.1 1707.3,468.3 1715.8,450 1836.8,450 1847.4,444.9 1900,444.9 1913.7,444.9 1924.3,443.7 1998.6,443.7 2009.2,436 2111.1,436 2121.7,427.5 2166.3,427.5 2176.9,420.3 2259.6,420.3 2272.4,418.2 3730.4,418.4"/>
<polyline class="thick" stroke="#6baed6" points="269,2117.7 846,2117.7 856,2110.3 1108,2110.3 1117.5,2102.2 1440,2102.2 1448,2094 1453,2047.9 1717,2047.9 1729.5,2039.8 3730.4,2039.8"/>
<polyline class="thick" stroke="#2171b5" points="269,2117.7 540,2117.7 600,2116.5 650,2113.5 700,2108.9 735,2104.5 769,2098.6 800,2090.6 838,2081.4 880,2071 927,2055.5 974.3,2039.6 1000,2028.5 1050,2007 1100,1985.3 1150,1963 1200,1940.7 1250,1916.2 1300,1889.7 1350,1861.7 1400,1831.7 1447,1806.5 1494.3,1780.8 1541.5,1752.8 1588.7,1724.5 1636,1696.5 1683,1668.9 1730,1645.5 1750,1637.7 1797.2,1616 1844.3,1598.5 1891.5,1586.2 1938.7,1579.4 1985.8,1575.7 2033,1574.7 2080.2,1574 2150,1573.8 3730.4,1573.6"/>
<polyline class="thick" stroke="#000" points="269,2117.7 838,2117.7 848.5,2102 983.8,2102 992.3,2005.9 1279,2005.9 1288.7,2003 1292.5,1973.3 1307.3,1971.2 1313.7,1939.4 1388,1939.4 1405,1910.9 1415.6,1907.5 1426.2,1882 1434.7,1852.3 1438.9,1797.2 1443.1,1754.7 1494.1,1754.7 1504.7,1739.8 1512.3,1739.8 1519.6,1716.5 1557.8,1716.5 1566.3,1666.4 2156.8,1666.4 2167.4,1659.3 3625.9,1659.3"/>
<circle cx="3625.9" cy="1659.3" r="22.9" fill="#000"/>
</g>
<rect x="222.4" y="270.5" width="3488" height="1847.9" fill="none" stroke="#fff" stroke-width="3.33"/>
<text x="295.7" y="329.4" style="font-size:29.17px">Generated by Jared Rennie (@jjrennie) on: 2021-09-28 08:37 Eastern. Data up to 20210923</text>
<text x="1909.6" y="94.0" text-anchor="middle" style="font-size:83.33px">2020-2021 Accumulated Snowfall For Dansville, NY</text>
<text x="1966.0" y="245.3" text-anchor="middle" class="l">GHCN-D ID= USC00301974 | LAT= 42.5647 | LON= -77.7175 | ELEV= 660' | Period= 1917-2021 | Season To Date Report= 98%</text>
<g class="t">
<text x="269" y="2178.0" text-anchor="middle">Oct 1</text>
<text x="560.5" y="2178.0" text-anchor="middle">Nov 1</text>
<text x="833.2" y="2178.0" text-anchor="middle">Dec 1</text>
<text x="1124.7" y="2178.0" text-anchor="middle">Jan 1</text>
<text x="1406.8" y="2178.0" text-anchor="middle">Feb 1</text>
<text x="1698.3" y="2178.0" text-anchor="middle">Mar 1</text>
<text x="1980.3" y="2178.0" text-anchor="middle">Apr 1</text>
<text x="2271.8" y="2178.0" text-anchor="middle">May 1</text>
<text x="2563.3" y="2178.0" text-anchor="middle">Jun 1</text>
<text x="2845.4" y="2178.0" text-anchor="middle">Jul 1</text>
<text x="3136.9" y="2178.0" text-anchor="middle">Aug 1</text>
<text x="3419" y="2178.0" text-anchor="middle">Sep 1</text>
<text x="193.4" y="2132.7" text-anchor="end">0"</text>
<text x="193.4" y="1978.7" text-anchor="end">10"</text>
<text x="193.4" y="1824.7" text-anchor="end">20"</text>
<text x="193.4" y="1670.7" text-anchor="end">30"</text>
<text x="193.4" y="1516.7" text-anchor="end">40"</text>
<text x="193.4" y="1362.8" text-anchor="end">50"</text>
<text x="193.4" y="1208.8" text-anchor="end">60"</text>
<text x="193.4" y="1054.8" text-anchor="end">70"</text>
<text x="193.4" y="900.8" text-anchor="end">80"</text>
<text x="193.4" y="746.8" text-anchor="end">90"</text>
<text x="193.4" y="592.8" text-anchor="end">100"</text>
<text x="193.4" y="438.8" text-anchor="end">110"</text>
<text x="3738.8" y="2132.7">0</text>
<text x="3738.8" y="1829.6">500</text>
<text x="3738.8" y="1526.4">1000</text>
<text x="3738.8" y="1223.3">1500</text>
<text x="3738.8" y="920.2">2000</text>
<text x="3738.8" y="617.1">2500</text>
<text x="3738.8" y="313.9">3000</text>
</g>
<g stroke="#fff" stroke-width="3.33">
<line x1="3710.4" y1="2117.7" x2="3725.7" y2="2117.7"/>
<line x1="3710.4" y1="1814.6" x2="3725.7" y2="1814.6"/>
<line x1="3710.4" y1="1511.4" x2="3725.7" y2="1511.4"/>
<line x1="3710.4" y1="1208.3" x2="3725.7" y2="1208.3"/>
<line x1="3710.4" y1="905.2" x2="3725.7" y2="905.2"/>
<line x1="3710.4" y1="602.1" x2="3725.7" y2="602.1"/>
<line x1="3710.4" y1="298.9" x2="3725.7" y2="298.9"/>
</g>
<text class="l" text-anchor="middle" transform="translate(66.6 1194.8) rotate(-90)">Accumulated Snowfall (inches)</text>
<text class="l" text-anchor="middle" transform="translate(3891 1194.7) rotate(90)">Accumulated Snowfall (mm)</text>
<rect x="222.3" y="2218.3" width="3487.2" height="87.5" rx="8.5" ry="8.5" fill="#666" stroke="#a3a3a3" stroke-width="4.17"/>
<line x1="242.3" y1="2259.4" x2="343.1" y2="2259.4" stroke="#08306b" stroke-width="20.83" stroke-linecap="square"/>
<text class="l" x="381.7" y="2277.8" style="letter-spacing:.1px" xml:space="preserve">Max (1977-1978):  110.3"</text>
<line x1="1131.3" y1="2259.4" x2="1232.1" y2="2259.4" stroke="#6baed6" stroke-width="20.83" stroke-linecap="square"/>
<text class="l" x="1270.7" y="2277.8" style="letter-spacing:.1px" xml:space="preserve">Min (1987-1988):    5.0"</text>
<line x1="1973.2" y1="2259.4" x2="2074" y2="2259.4" stroke="#2171b5" stroke-width="20.83" stroke-linecap="square"/>
<text class="l" x="2112.6" y="2277.8" style="letter-spacing:.1px" xml:space="preserve">Avg (1991-2020):   35.6"</text>
<line x1="2835.3" y1="2259.4" x2="2936.1" y2="2259.4" stroke="#000" stroke-width="20.83" stroke-linecap="square"/>
<text class="l" x="2974.7" y="2277.8" style="letter-spacing:.1px" xml:space="preserve">Current (2020-2021):   29.8"</text>
</svg></body></html>
